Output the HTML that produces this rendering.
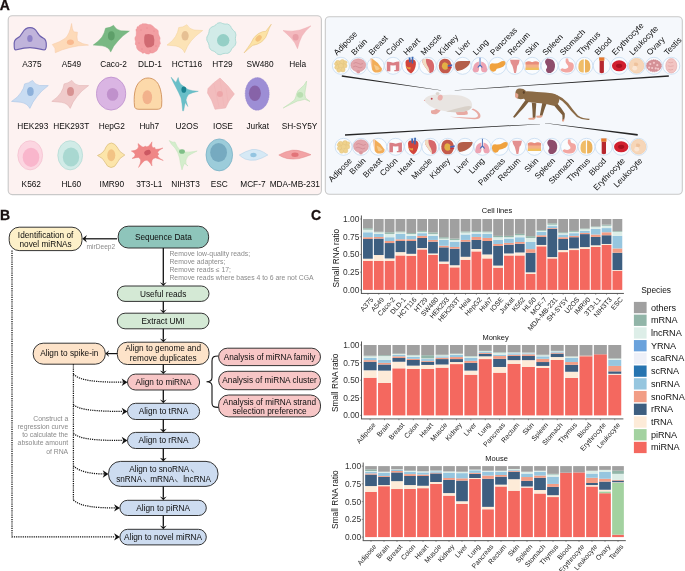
<!DOCTYPE html>
<html><head><meta charset="utf-8"><style>
html,body{margin:0;padding:0;background:#fff;overflow:hidden;width:685px;height:571px;}
svg{display:block;font-family:"Liberation Sans", sans-serif;will-change:transform;}
</style></head><body>
<svg width="685" height="571" viewBox="0 0 685 571">
<text x="-0.3" y="9.8" font-size="14" font-weight="bold" fill="#1a1010" stroke="#1a1010" stroke-width="0.3">A</text>
<text x="0" y="219.9" font-size="14" font-weight="bold" fill="#1a1010" stroke="#1a1010" stroke-width="0.3">B</text>
<text x="310.9" y="219.6" font-size="14" font-weight="bold" fill="#1a1010" stroke="#1a1010" stroke-width="0.3">C</text>
<rect x="8.2" y="15.7" width="313.2" height="178.9" rx="4" fill="#FDF2F1" stroke="#C9C9C9" stroke-width="1.1"/>
<rect x="325.3" y="16.7" width="357" height="177.5" rx="4" fill="#F5F8FC" stroke="#C9C9C9" stroke-width="1.1"/>
<path d="M14.2,46 C13.8,42 14.3,39.6 17,38.4 C19.5,37.3 21,35.5 22.6,32.5 C24.5,29 27,27.6 30,27.6 C33,27.6 35.5,29 37,32 C38.5,35 40.5,37 43.5,38.3 C46.3,39.5 46.5,42 46.3,46 C46.1,49.3 45.3,50.2 43,49.7 C38,48.6 34,47.6 30,47.6 C26,47.6 21,48.6 16.6,49.8 C14.6,50.3 14.2,49 14.2,46 Z" fill="#C0B4DB" stroke="#6E61AE" stroke-width="1.15"/>
<ellipse cx="29.9" cy="38.6" rx="2.7" ry="3.5" fill="#8E82C6"/>
<path d="M71.6,23.5 Q72,29 73.6,31.8 L77.4,32.2 Q76.5,37 77.5,41 Q82,44 88.5,45.1 Q78,45.3 70,47.5 Q62,49.5 55.3,52.7 Q56,48 52.3,44.5 Q60,42 65,38.5 Q69.5,35 71.6,23.5 Z" fill="#FDDAB9" stroke="#F7C8A2" stroke-width="0.5"/>
<ellipse cx="70.4" cy="42.2" rx="3.5" ry="2.7" fill="#F9B98F"/>
<path d="M105.5,28.2 Q110,28 113.6,25.3 Q116,30 121,30.8 L129.4,31.1 Q122,36 118,41 Q113,46 110.7,52.1 Q109,47 102,45.8 L93.2,45.1 Q99,41 102,37 Q104.5,33 105.5,28.2 Z" fill="#79B883" stroke="#6AAE75" stroke-width="0.4"/>
<ellipse cx="111.3" cy="35.8" rx="3.4" ry="4.6" fill="#5E9F69"/>
<path d="M143.80,23.86 C144.49,23.88 145.06,23.74 145.94,23.87 C146.81,24.00 147.27,24.37 148.19,24.53 C149.10,24.69 149.61,24.38 150.52,24.67 C151.43,24.96 151.92,25.34 152.73,25.98 C153.54,26.62 153.79,27.23 154.59,27.88 C155.38,28.53 155.99,28.65 156.70,29.23 C157.41,29.81 157.80,29.96 158.12,30.78 C158.45,31.60 158.14,32.38 158.32,33.34 C158.50,34.30 158.69,34.63 159.03,35.58 C159.37,36.52 159.91,37.05 160.05,38.08 C160.19,39.11 159.67,39.62 159.73,40.71 C159.79,41.80 160.41,42.70 160.36,43.54 C160.31,44.38 159.72,44.31 159.48,44.90 C159.24,45.50 159.41,45.97 159.15,46.53 C158.89,47.09 158.48,47.16 158.17,47.71 C157.86,48.26 157.88,48.68 157.59,49.28 C157.30,49.88 157.17,50.25 156.73,50.69 C156.30,51.14 155.98,51.17 155.42,51.53 C154.85,51.88 154.55,52.17 153.91,52.49 C153.27,52.80 152.93,53.00 152.23,53.10 C151.53,53.21 151.04,52.83 150.40,53.02 C149.76,53.20 149.61,53.87 149.04,54.05 C148.46,54.23 148.13,54.01 147.53,53.92 C146.93,53.84 146.61,53.87 146.04,53.63 C145.46,53.39 145.30,52.80 144.66,52.72 C144.03,52.64 143.50,53.35 142.87,53.24 C142.24,53.13 142.06,52.52 141.52,52.17 C140.97,51.81 140.68,51.77 140.13,51.46 C139.57,51.15 139.26,51.02 138.75,50.61 C138.25,50.20 138.02,49.96 137.60,49.40 C137.18,48.84 136.89,48.56 136.66,47.82 C136.43,47.08 136.74,46.44 136.46,45.70 C136.18,44.97 135.43,44.92 135.26,44.14 C135.10,43.37 135.67,42.72 135.63,41.84 C135.59,40.96 135.16,40.63 135.05,39.75 C134.93,38.87 134.86,38.28 135.07,37.46 C135.29,36.64 135.88,36.39 136.11,35.64 C136.34,34.89 136.19,34.50 136.23,33.71 C136.27,32.92 136.36,32.49 136.31,31.68 C136.25,30.87 135.82,30.27 135.94,29.65 C136.07,29.03 136.68,29.15 136.92,28.59 C137.17,28.03 136.88,27.30 137.18,26.87 C137.48,26.44 138.03,26.72 138.43,26.43 C138.84,26.14 138.84,25.74 139.21,25.41 C139.58,25.07 139.83,24.94 140.28,24.74 C140.73,24.55 141.01,24.63 141.44,24.43 C141.88,24.23 142.00,23.88 142.47,23.76 C142.94,23.65 143.11,23.84 143.80,23.86 Z" fill="#F29EA2" stroke="#EC9096" stroke-width="0.5"/>
<path d="M145,34.5 Q150,33 153.5,35.5 Q155,40 154,45 Q151,48 147,47.4 Q143.8,45 144.2,40 Q144,36.5 145,34.5 Z" fill="#D06A72"/>
<circle cx="141" cy="30" r="0.55" fill="#E3828A"/>
<circle cx="154" cy="31" r="0.55" fill="#E3828A"/>
<circle cx="139" cy="43" r="0.55" fill="#E3828A"/>
<circle cx="156" cy="46" r="0.55" fill="#E3828A"/>
<circle cx="147" cy="28" r="0.55" fill="#E3828A"/>
<circle cx="150" cy="51" r="0.55" fill="#E3828A"/>
<circle cx="142" cy="49" r="0.55" fill="#E3828A"/>
<path d="M178.7,27.6 Q183,27.5 186.9,24.7 Q189,29 194,30 L202.7,30.5 Q195,36 191,41 Q187,46 184.6,52.7 Q182.5,47.5 176,46 L167,45.1 Q173,41 175.5,36.5 Q178,32.5 178.7,27.6 Z" fill="#FCE3B6" stroke="#F2D197" stroke-width="0.5"/>
<ellipse cx="185.1" cy="35.8" rx="3.6" ry="4.8" fill="#E6C093"/>
<path d="M235.40,38.70 C235.40,42.00 236.49,41.31 235.52,44.21 C234.55,47.10 234.13,45.81 232.17,48.34 C230.22,50.87 231.46,51.10 229.01,52.64 C226.55,54.18 226.99,52.90 224.00,53.47 C221.00,54.05 221.82,55.09 219.03,54.56 C216.24,54.02 217.33,53.34 214.70,51.69 C212.07,50.04 212.07,51.41 210.25,49.05 C208.43,46.69 209.67,46.93 208.63,43.83 C207.59,40.73 206.79,41.78 206.79,38.70 C206.79,35.62 207.59,36.67 208.63,33.57 C209.67,30.47 208.43,30.71 210.25,28.35 C212.07,25.99 212.07,27.36 214.70,25.71 C217.33,24.06 216.24,23.38 219.03,22.84 C221.82,22.31 221.00,23.35 224.00,23.93 C226.99,24.50 226.55,23.22 229.01,24.76 C231.46,26.30 230.22,26.53 232.17,29.06 C234.13,31.59 234.55,30.30 235.52,33.19 C236.49,36.09 235.40,35.40 235.40,38.70 Z" fill="#D2EBE8" stroke="#9ED3CC" stroke-width="0.75"/>
<circle cx="223.2" cy="40.3" r="6.2" fill="#95CFC6"/>
<path d="M244,52.9 Q248,47.5 251,43 Q253,37 258.5,33.5 Q263,31 265.8,31.3 Q268.3,27.8 271.3,24.2 Q268.8,28.8 267.8,32.3 Q266.5,38 261.5,42 Q257,45 252.8,45.3 Q248.3,49 244,52.9 Z" fill="#FCE3A6" stroke="#E8C37E" stroke-width="0.55"/>
<ellipse cx="258.6" cy="38.3" rx="3.7" ry="2.5" transform="rotate(-48 258.6 38.3)" fill="#F4C27E"/>
<path d="M283,30.5 Q293,32 300,30 Q306,28 311,25.8 Q305,31 302,36 Q299,42 297.5,48.7 Q295,42 291,38 Q287,34 283,30.5 Z" fill="#F3B9BE" stroke="#EDA9AF" stroke-width="0.4"/>
<ellipse cx="295.6" cy="37.2" rx="3" ry="3.3" fill="#E9A0A8"/>
<path d="M24.6,83.9 Q28.5,83.5 32.5,80.4 Q34.5,84.5 39.5,85.5 L48.3,85.6 Q41,91 37,96.5 Q32.5,102 29.9,108.4 Q27.5,103.5 21,102.3 L11.5,101.4 Q18,97.5 21,92.5 Q24,88.5 24.6,83.9 Z" fill="#C9DCF2" stroke="#A5C2E6" stroke-width="0.55"/>
<ellipse cx="30.4" cy="91.4" rx="3.3" ry="4.5" fill="#8DB0DA"/>
<path d="M64.1,83.9 Q68,83.5 71.9,80.4 Q74,84.5 79,85.5 L88.6,85.6 Q81,91 77,96.5 Q72.5,102 70.2,108.4 Q68,103.5 61.5,102.3 L51.8,101.4 Q58,97.5 61,92.5 Q63.5,88.5 64.1,83.9 Z" fill="#F0CBCB" stroke="#E2B2B2" stroke-width="0.55"/>
<ellipse cx="70.5" cy="91.4" rx="3.5" ry="4.5" fill="#D79292"/>
<ellipse cx="111.1" cy="93.6" rx="14.6" ry="16.5" fill="#DAB5E3" stroke="#BC8ECD" stroke-width="0.8"/>
<ellipse cx="112.6" cy="94.4" rx="5.7" ry="6.4" fill="#C091CC"/>
<path d="M134.5,106 C133.6,97 134.5,88 138.5,83 C141.5,79.5 144.5,78 148,78 C152,78 156,80 158.5,84.5 C161.5,90 162.3,99 161.6,106.3 C161.2,108.5 159.5,109.3 157,109.3 L139,109.3 C136,109.3 134.7,108.3 134.5,106 Z" fill="#FCD9AA" stroke="#D0925C" stroke-width="0.9"/>
<ellipse cx="147.3" cy="97.3" rx="4.8" ry="7" fill="#F2B28C"/>
<path d="M171,77.2 Q172.5,78.5 174,80.5 L176,82.5 Q177,80 178.2,77.5 Q178.5,81 180.5,84 Q184.5,87 188,89.5 Q192,91 198.3,91.3 Q192,92.5 188.5,94.5 Q186.5,97 186,100 L187.8,106.5 L185.3,102.5 Q184.5,106 183.6,110.8 L182.6,110.8 Q182.3,104 181,98 Q178.5,92 176,87.5 Q173,82 171,77.2 Z" fill="#69BFC8" stroke="#5AB3BD" stroke-width="0.4"/>
<ellipse cx="183.8" cy="89.7" rx="2.4" ry="3.1" fill="#1B8290"/>
<path d="M208,88.5 L213.5,83 L220,78 L228,86 L234.4,94 L229,101 L225.5,108 L215,109.3 L211.5,100 L207.5,93 Z" fill="#F2BCBD" stroke="#EAADAF" stroke-width="0.5" stroke-linejoin="round"/>
<path d="M214,84 L219,107 M220,80 L224,106 M226,88 L228,102" stroke="#EDB0B2" stroke-width="0.4" fill="none"/>
<circle cx="219.9" cy="94.1" r="3" fill="#EDA6A9"/>
<ellipse cx="257.2" cy="93.9" rx="12" ry="16.3" fill="#9D8ED5" stroke="#9282CB" stroke-width="0.6" stroke-dasharray="1,0.7"/>
<ellipse cx="254.9" cy="93.3" rx="6" ry="7.8" fill="#8763A8"/>
<path d="M283.2,108 Q290,103.5 294.5,100 Q296,97 296.5,94 Q297.5,90 301,88 Q304.5,85.5 306.6,81 Q306.3,86 305.3,90 Q304.3,94.5 305.5,98 L310,101.5 L304.8,99.3 Q301,100.5 297.5,101 Q291,104 283.2,108 Z" fill="#D5EDCE" stroke="#B6DDAD" stroke-width="0.5"/>
<ellipse cx="300.1" cy="94.8" rx="3.1" ry="2.9" fill="#B9DEB0"/>
<ellipse cx="30.2" cy="155.3" rx="12.4" ry="14.6" fill="#FCD6E1" stroke="#F1B9CA" stroke-width="0.6"/>
<ellipse cx="31" cy="157.3" rx="8.3" ry="9.6" fill="#F9B6CC"/>
<ellipse cx="70.2" cy="155.3" rx="12.4" ry="14.6" fill="#D1EBE7" stroke="#A6D5CE" stroke-width="0.6"/>
<ellipse cx="71" cy="157" rx="8.2" ry="9.6" fill="#A9D8D1"/>
<path d="M97.5,155.5 Q104,153 106,147 Q108,143 111.5,143 Q115,143.5 117,147 Q119,152 124.8,155 Q119,158 117,163 Q115,167.5 111,167.5 Q107,167 105.5,163 Q103.5,158 97.5,155.5 Z" fill="#FCE5AA" stroke="#D8BA76" stroke-width="0.7"/>
<ellipse cx="111.3" cy="155.3" rx="4" ry="6" fill="#F2C385"/>
<path d="M131.30,151.00 Q140.34,150.51 138.00,143.50 Q144.11,149.14 145.00,146.00 Q147.96,148.67 152.00,141.80 Q150.71,149.08 155.00,147.50 Q153.74,150.79 163.00,148.00 Q154.84,152.57 159.00,154.00 Q154.92,156.01 163.30,160.50 Q153.82,157.11 155.00,158.00 Q150.71,158.62 152.00,166.00 Q148.10,159.31 145.50,160.50 Q144.38,159.72 138.50,167.50 Q142.60,159.04 139.00,158.00 Q140.81,156.56 132.00,158.50 Q138.69,154.64 131.30,151.00 Z" fill="#EF8787" stroke="#E87878" stroke-width="0.4"/>
<ellipse cx="147.5" cy="152.6" rx="3.4" ry="2.5" transform="rotate(-25 147.5 152.6)" fill="#CC5862"/>
<path d="M169.2,140.5 Q173,143 175,142 Q177,147 180,150 Q184,153 190,152 Q194,151.5 197.2,151 Q191,154 188,156 Q185,160 186,164 L188,166 L184.5,163.5 Q183,166 182,169.9 Q180,163 179.5,158 Q178,152 175,148 Q171,144.5 169.2,140.5 Z" fill="#D4EDCC" stroke="#BBE0B2" stroke-width="0.4"/>
<ellipse cx="182" cy="151.5" rx="2.9" ry="2.3" fill="#7FBF87"/>
<ellipse cx="219.3" cy="154.9" rx="13.3" ry="16" fill="#9CCCDA" stroke="#74AEC3" stroke-width="0.7"/>
<ellipse cx="218.6" cy="152.5" rx="8.4" ry="9.6" fill="#76AAC0"/>
<path d="M239.3,155 Q246,151 252,149.5 Q256,149 260,150.5 Q264,152 267.8,155 Q262,158.5 256,160 Q250,161 245,159 Q242,157.5 239.3,155 Z" fill="#D6E9F5" stroke="#A8CDE6" stroke-width="0.5"/>
<ellipse cx="253.5" cy="155" rx="3.2" ry="2.2" fill="#94C5E1"/>
<path d="M278.8,155 Q285,151.5 292,150.2 Q297,149.8 302,151.5 Q307,153 311,154.7 Q305,157 299,158.6 Q293,159.6 287,158.5 Q282,157.3 278.8,155 Z" fill="#F2A3A5" stroke="#E28688" stroke-width="0.5"/>
<ellipse cx="295" cy="154.7" rx="3.6" ry="2.2" fill="#E27479"/>
<text x="31.9" y="66.5" font-size="8.3" fill="#0d0d0d" text-anchor="middle">A375</text>
<text x="71.5" y="66.5" font-size="8.3" fill="#0d0d0d" text-anchor="middle">A549</text>
<text x="113.6" y="66.5" font-size="8.3" fill="#0d0d0d" text-anchor="middle">Caco-2</text>
<text x="150.0" y="66.5" font-size="8.3" fill="#0d0d0d" text-anchor="middle">DLD-1</text>
<text x="186.9" y="66.5" font-size="8.3" fill="#0d0d0d" text-anchor="middle">HCT116</text>
<text x="222.5" y="66.5" font-size="8.3" fill="#0d0d0d" text-anchor="middle">HT29</text>
<text x="260.0" y="66.5" font-size="8.3" fill="#0d0d0d" text-anchor="middle">SW480</text>
<text x="297.7" y="66.5" font-size="8.3" fill="#0d0d0d" text-anchor="middle">Hela</text>
<text x="32.8" y="129.0" font-size="8.3" fill="#0d0d0d" text-anchor="middle">HEK293</text>
<text x="71.3" y="129.0" font-size="8.3" fill="#0d0d0d" text-anchor="middle">HEK293T</text>
<text x="111.8" y="129.0" font-size="8.3" fill="#0d0d0d" text-anchor="middle">HepG2</text>
<text x="149.3" y="129.0" font-size="8.3" fill="#0d0d0d" text-anchor="middle">Huh7</text>
<text x="186.9" y="129.0" font-size="8.3" fill="#0d0d0d" text-anchor="middle">U2OS</text>
<text x="223.0" y="129.0" font-size="8.3" fill="#0d0d0d" text-anchor="middle">IOSE</text>
<text x="257.7" y="129.0" font-size="8.3" fill="#0d0d0d" text-anchor="middle">Jurkat</text>
<text x="299.6" y="129.0" font-size="8.3" fill="#0d0d0d" text-anchor="middle">SH-SY5Y</text>
<text x="31.3" y="186.9" font-size="8.3" fill="#0d0d0d" text-anchor="middle">K562</text>
<text x="71.3" y="186.9" font-size="8.3" fill="#0d0d0d" text-anchor="middle">HL60</text>
<text x="111.8" y="186.9" font-size="8.3" fill="#0d0d0d" text-anchor="middle">IMR90</text>
<text x="149.3" y="186.9" font-size="8.3" fill="#0d0d0d" text-anchor="middle">3T3-L1</text>
<text x="185.5" y="186.9" font-size="8.3" fill="#0d0d0d" text-anchor="middle">NIH3T3</text>
<text x="219.2" y="186.9" font-size="8.3" fill="#0d0d0d" text-anchor="middle">ESC</text>
<text x="252.9" y="186.9" font-size="8.3" fill="#0d0d0d" text-anchor="middle">MCF-7</text>
<text x="294.8" y="186.9" font-size="8.3" fill="#0d0d0d" text-anchor="middle">MDA-MB-231</text>
<defs><linearGradient id="gl1" gradientUnits="userSpaceOnUse" x1="342" y1="0" x2="441" y2="0"><stop offset="0" stop-color="#1e1e1e"/><stop offset="0.7" stop-color="#444"/><stop offset="1" stop-color="#bbb"/></linearGradient><linearGradient id="gl2" gradientUnits="userSpaceOnUse" x1="455" y1="0" x2="669" y2="0"><stop offset="0" stop-color="#c8c8c8"/><stop offset="0.3" stop-color="#555"/><stop offset="1" stop-color="#1e1e1e"/></linearGradient><linearGradient id="gl3" gradientUnits="userSpaceOnUse" x1="345" y1="0" x2="540" y2="0"><stop offset="0" stop-color="#1e1e1e"/><stop offset="0.75" stop-color="#444"/><stop offset="1" stop-color="#c0c0c0"/></linearGradient><linearGradient id="gl4" gradientUnits="userSpaceOnUse" x1="545" y1="0" x2="638" y2="0"><stop offset="0" stop-color="#c8c8c8"/><stop offset="0.35" stop-color="#555"/><stop offset="1" stop-color="#1e1e1e"/></linearGradient></defs>
<path d="M341.68,76.84 L440.98,90.42 L441.02,90.18 L341.92,75.16 Z" fill="#262626"/>
<path d="M668.74,75.15 L454.69,90.28 L454.71,90.52 L668.86,76.85 Z" fill="#262626"/>
<path d="M345.05,135.85 L492.03,127.05 L491.97,126.15 L344.95,134.15 Z" fill="#262626"/>
<path d="M492.02,127.05 L540.01,124.32 L539.99,124.08 L491.98,126.15 Z" fill="#262626"/>
<path d="M637.81,133.96 L545.02,122.98 L544.98,123.22 L637.59,135.64 Z" fill="#262626"/>
<circle cx="340.90" cy="65.8" r="8.5" fill="#FAFCFE" stroke="#BFD7EF" stroke-width="0.7"/>
<g transform="translate(340.90,65.8) scale(1.2) translate(-340.90,-65.8)"><circle cx="338.44" cy="63.34" r="2.08" fill="#EFD28E" stroke="#DDBB6F" stroke-width="0.3"/>
<circle cx="342.13" cy="62.52" r="2.00" fill="#EFD28E" stroke="#DDBB6F" stroke-width="0.3"/>
<circle cx="344.18" cy="65.80" r="1.92" fill="#EFD28E" stroke="#DDBB6F" stroke-width="0.3"/>
<circle cx="337.62" cy="67.03" r="1.92" fill="#EFD28E" stroke="#DDBB6F" stroke-width="0.3"/>
<circle cx="340.90" cy="65.80" r="2.08" fill="#EFD28E" stroke="#DDBB6F" stroke-width="0.3"/>
<circle cx="342.54" cy="69.08" r="1.92" fill="#EFD28E" stroke="#DDBB6F" stroke-width="0.3"/>
<circle cx="339.26" cy="69.49" r="1.76" fill="#EFD28E" stroke="#DDBB6F" stroke-width="0.3"/>
<circle cx="344.59" cy="62.93" r="1.44" fill="#EFD28E" stroke="#DDBB6F" stroke-width="0.3"/>
<circle cx="336.80" cy="64.16" r="1.28" fill="#EFD28E" stroke="#DDBB6F" stroke-width="0.3"/></g>
<text transform="translate(337.10,55.70) rotate(-46)" font-size="8.2" fill="#0d0d0d">Adipose</text>
<circle cx="358.29" cy="65.8" r="8.5" fill="#FAFCFE" stroke="#BFD7EF" stroke-width="0.7"/>
<g transform="translate(358.29,65.8) scale(1.2) translate(-358.29,-65.8)"><ellipse cx="358.29" cy="65.30" rx="6.2" ry="5.4" fill="#E3A6AC" stroke="#CF8D95" stroke-width="0.4"/>
<path d="M354.29,63.80 q2,-1.5 4,0 q2,1.5 4,0 M353.79,66.80 q2,-1.5 4,0 q2,1.5 4,0" stroke="#C9818B" stroke-width="0.5" fill="none"/>
<ellipse cx="358.29" cy="70.80" rx="1.6" ry="1.4" fill="#D9969C"/></g>
<text transform="translate(354.49,55.70) rotate(-46)" font-size="8.2" fill="#0d0d0d">Brain</text>
<circle cx="375.68" cy="65.8" r="8.5" fill="#FAFCFE" stroke="#BFD7EF" stroke-width="0.7"/>
<g transform="translate(375.68,65.8) scale(1.2) translate(-375.68,-65.8)"><path transform="translate(375.68,65.80)" d="M-3,-6 Q2,-3 5,2 Q6,5 2,5.5 Q-2,6 -3,3 Z" fill="#F2AD58" />
<path transform="translate(375.68,65.80)" d="M-3,-6 L-4.5,-6 Q-4,0 -3,3 Z" fill="#F6C39B" />
<path transform="translate(375.68,65.80)" d="M-1.5,-1 Q2,0 3.5,2.5 Q2,4 0,3.5 Z" fill="#F6C98A" /></g>
<text transform="translate(371.88,55.70) rotate(-46)" font-size="8.2" fill="#0d0d0d">Breast</text>
<circle cx="393.07" cy="65.8" r="8.5" fill="#FAFCFE" stroke="#BFD7EF" stroke-width="0.7"/>
<g transform="translate(393.07,65.8) scale(1.2) translate(-393.07,-65.8)"><path transform="translate(393.07,65.80)" d="M-5.2,4.5 L-5.2,-3.3 Q-3,-3.6 0,-2.6 Q3,-3.6 5.25,-3.6 L5.25,3 Q5.5,4.5 4,4.5 L1,4.5 L1,3.6 L2.3,3.6 L2.3,-0.4 Q0,-0.2 -2.25,-0.4 L-2.25,4.5 Z" fill="#DA7E85" /></g>
<text transform="translate(389.27,55.70) rotate(-46)" font-size="8.2" fill="#0d0d0d">Colon</text>
<circle cx="410.46" cy="65.8" r="8.5" fill="#FAFCFE" stroke="#BFD7EF" stroke-width="0.7"/>
<g transform="translate(410.46,65.8) scale(1.2) translate(-410.46,-65.8)"><path transform="translate(410.46,65.80)" d="M-4,-1 Q-5,-6 0,-5 Q5,-6 4.5,-1 Q4,4 0.5,6.5 Q-4,4 -4,-1 Z" fill="#D2453B" />
<path transform="translate(410.46,65.80)" d="M-1.5,-7 L0,-7 L0.3,-3 L-1.2,-3 Z" fill="#3B68B4" />
<path transform="translate(410.46,65.80)" d="M1,-7.5 L2.5,-7.5 L2.2,-2 L1,-2 Z" fill="#3B68B4" />
<path transform="translate(410.46,65.80)" d="M-4,0 Q-2,2 0,1 L0,3 Q-3,3 -4,0 Z" fill="#E8A040" /></g>
<text transform="translate(406.66,55.70) rotate(-46)" font-size="8.2" fill="#0d0d0d">Heart</text>
<circle cx="427.85" cy="65.8" r="8.5" fill="#FAFCFE" stroke="#BFD7EF" stroke-width="0.7"/>
<g transform="translate(427.85,65.8) scale(1.2) translate(-427.85,-65.8)"><path transform="translate(427.85,65.80)" d="M-4.5,-5 Q0,-7 3.5,-4.5 Q6,-1 5,3.5 Q4,6.5 1.5,6 Q-1,3 -3,0 Q-5,-2.5 -4.5,-5 Z" fill="#D7686B" />
<path transform="translate(427.85,65.80)" d="M-4.5,-5 Q-3,-6 -1.5,-5.8 Q-2,-2 0.5,1.5 Q1.5,4 1.5,6 Q-1,3 -3,0 Q-5,-2.5 -4.5,-5 Z" fill="#F1DDC2" /></g>
<text transform="translate(424.05,55.70) rotate(-46)" font-size="8.2" fill="#0d0d0d">Muscle</text>
<circle cx="445.24" cy="65.8" r="8.5" fill="#FAFCFE" stroke="#BFD7EF" stroke-width="0.7"/>
<g transform="translate(445.24,65.8) scale(1.2) translate(-445.24,-65.8)"><path transform="translate(445.24,65.80)" d="M-1,-5.8 Q4,-6 5,-1.5 Q5.5,3 3,5.5 Q0,7 -3,5.5 Q-5.5,3.5 -5.3,-0.5 Q-5,-5 -1,-5.8 Z" fill="#C45A4B" />
<path transform="translate(445.24,65.80)" d="M-0.5,-3 Q2.5,-2.5 2.5,0.5 Q2.5,3 0,3.3 Q-2.5,3 -2.8,0.3 Q-2.8,-2.5 -0.5,-3 Z" fill="#E2B045" />
<path transform="translate(445.24,65.80)" d="M2,-0.5 L5.8,-1.2 L5.8,0.3 L2,0.8 Z" fill="#4A62B8" />
<path transform="translate(445.24,65.80)" d="M2.2,0.8 L5.5,1.2 L5.3,2 L2,1.8 Z" fill="#C83040" /></g>
<text transform="translate(441.44,55.70) rotate(-46)" font-size="8.2" fill="#0d0d0d">Kidney</text>
<circle cx="462.63" cy="65.8" r="8.5" fill="#FAFCFE" stroke="#BFD7EF" stroke-width="0.7"/>
<g transform="translate(462.63,65.8) scale(1.2) translate(-462.63,-65.8)"><path transform="translate(462.63,65.80)" d="M-6.2,-1.5 Q-5.5,-4 -1.5,-4 L6.2,-4 Q6.5,-1.5 3.5,1 Q0,4 -4.5,4.3 Q-6.8,2.5 -6.2,-1.5 Z" fill="#B45F4A" /></g>
<text transform="translate(458.83,55.70) rotate(-46)" font-size="8.2" fill="#0d0d0d">Liver</text>
<circle cx="480.02" cy="65.8" r="8.5" fill="#FAFCFE" stroke="#BFD7EF" stroke-width="0.7"/>
<g transform="translate(480.02,65.8) scale(1.2) translate(-480.02,-65.8)"><path transform="translate(480.02,65.80)" d="M-1,-3.5 Q-5.5,-2.5 -6,3 Q-6,5.8 -2.5,5.3 Q-0.8,4.8 -0.8,2 Z" fill="#EDA3B2" />
<path transform="translate(480.02,65.80)" d="M1,-3.5 Q5.5,-2.5 6,3 Q6,5.8 2.5,5.3 Q0.8,4.8 0.8,2 Z" fill="#EDA3B2" />
<path transform="translate(480.02,65.80)" d="M-0.4,-6.8 L0.4,-6.8 L0.4,-1 L2.2,1.2 L1.6,1.7 L0,0.2 L-1.6,1.7 L-2.2,1.2 L-0.4,-1 Z" fill="#4A6DB8" /></g>
<text transform="translate(476.22,55.70) rotate(-46)" font-size="8.2" fill="#0d0d0d">Lung</text>
<circle cx="497.41" cy="65.8" r="8.5" fill="#FAFCFE" stroke="#BFD7EF" stroke-width="0.7"/>
<g transform="translate(497.41,65.8) scale(1.2) translate(-497.41,-65.8)"><path transform="translate(497.41,65.80)" d="M-6.5,1.5 Q-6.8,-2.5 -3,-2 Q0,-1.6 2,-3 Q4.5,-4.5 6.5,-3.5 Q7.2,-1 5,0.5 Q2,1.8 -0.5,2.5 Q-1.5,5.5 -4.5,4.8 Q-6.3,4 -6.5,1.5 Z" fill="#F0A23E" /></g>
<text transform="translate(493.61,55.70) rotate(-46)" font-size="8.2" fill="#0d0d0d">Pancreas</text>
<circle cx="514.80" cy="65.8" r="8.5" fill="#FAFCFE" stroke="#BFD7EF" stroke-width="0.7"/>
<g transform="translate(514.80,65.8) scale(1.2) translate(-514.80,-65.8)"><path transform="translate(514.80,65.80)" d="M-4,-5 L4,-5 Q3.5,-1 2,0 Q1.5,4 1,6 L-0.5,6 Q-1,3 -2,0 Q-3.5,-1.5 -4,-5 Z" fill="#E39090" /></g>
<text transform="translate(511.00,55.70) rotate(-46)" font-size="8.2" fill="#0d0d0d">Rectum</text>
<circle cx="532.19" cy="65.8" r="8.5" fill="#FAFCFE" stroke="#BFD7EF" stroke-width="0.7"/>
<g transform="translate(532.19,65.8) scale(1.2) translate(-532.19,-65.8)"><path transform="translate(532.19,65.80)" d="M-5.5,-3 L5.5,-3 L5.5,3.5 L-5.5,3.5 Z" fill="#F4B189" />
<path transform="translate(532.19,65.80)" d="M-5.5,-3 Q-3,-4.5 0,-3 Q3,-4.5 5.5,-3 L5.5,-1 L-5.5,-1 Z" fill="#E88D7C" />
<path transform="translate(532.19,65.80)" d="M-5.5,1.5 L5.5,1.5 L5.5,3.5 L-5.5,3.5 Z" fill="#F0C060" /></g>
<text transform="translate(528.39,55.70) rotate(-46)" font-size="8.2" fill="#0d0d0d">Skin</text>
<circle cx="549.58" cy="65.8" r="8.5" fill="#FAFCFE" stroke="#BFD7EF" stroke-width="0.7"/>
<g transform="translate(549.58,65.8) scale(1.2) translate(-549.58,-65.8)"><path transform="translate(549.58,65.80)" d="M-2,-6 Q4,-6 4.5,-1 Q5,4 1,6 Q-3,6.5 -3,3 Q-1,1 -3,-1 Q-5,-4 -2,-6 Z" fill="#8E4D6B" /></g>
<text transform="translate(545.78,55.70) rotate(-46)" font-size="8.2" fill="#0d0d0d">Spleen</text>
<circle cx="566.97" cy="65.8" r="8.5" fill="#FAFCFE" stroke="#BFD7EF" stroke-width="0.7"/>
<g transform="translate(566.97,65.8) scale(1.2) translate(-566.97,-65.8)"><path transform="translate(566.97,65.80)" d="M-1,-6 L1,-6 Q1,-3 3,-3 Q6.5,-2.5 5.5,2 Q4.5,6 -1,5.5 Q-5,5 -5.5,3 L-4,2 Q-1,3.5 1,1.5 Q1.5,0 -0.5,-2 Q-1.5,-3 -1,-6 Z" fill="#F2A6A1" /></g>
<text transform="translate(563.17,55.70) rotate(-46)" font-size="8.2" fill="#0d0d0d">Stomach</text>
<circle cx="584.36" cy="65.8" r="8.5" fill="#FAFCFE" stroke="#BFD7EF" stroke-width="0.7"/>
<g transform="translate(584.36,65.8) scale(1.2) translate(-584.36,-65.8)"><path transform="translate(584.36,65.80)" d="M-0.5,-5.5 Q-5,-5 -5,1 Q-5,6 -1,5.5 L-0.5,5.5 Z" fill="#F0BD68" />
<path transform="translate(584.36,65.80)" d="M0.5,-5.5 Q5,-5 5,1 Q5,6 1,5.5 L0.5,5.5 Z" fill="#ECB25A" /></g>
<text transform="translate(580.56,55.70) rotate(-46)" font-size="8.2" fill="#0d0d0d">Thymus</text>
<circle cx="601.75" cy="65.8" r="8.5" fill="#FAFCFE" stroke="#BFD7EF" stroke-width="0.7"/>
<g transform="translate(601.75,65.8) scale(1.2) translate(-601.75,-65.8)"><path transform="translate(601.75,65.80)" d="M-1.8,-4.5 L1.8,-4.5 L1.8,5.5 Q0,6.8 -1.8,5.5 Z" fill="#B7282F" />
<path transform="translate(601.75,65.80)" d="M-2.2,-7 L2.2,-7 L2.2,-4.3 L-2.2,-4.3 Z" fill="#E87A2D" /></g>
<text transform="translate(597.95,55.70) rotate(-46)" font-size="8.2" fill="#0d0d0d">Blood</text>
<circle cx="619.14" cy="65.8" r="8.5" fill="#FAFCFE" stroke="#BFD7EF" stroke-width="0.7"/>
<g transform="translate(619.14,65.8) scale(1.2) translate(-619.14,-65.8)"><ellipse cx="619.14" cy="65.80" rx="6" ry="4.6" fill="#D1202F"/>
<ellipse cx="619.14" cy="65.80" rx="2.6" ry="1.8" fill="#A8101E"/></g>
<text transform="translate(615.34,55.70) rotate(-46)" font-size="8.2" fill="#0d0d0d">Erythrocyte</text>
<circle cx="636.53" cy="65.8" r="8.5" fill="#FAFCFE" stroke="#BFD7EF" stroke-width="0.7"/>
<g transform="translate(636.53,65.8) scale(1.2) translate(-636.53,-65.8)"><circle cx="636.53" cy="65.80" r="6.2" fill="#F6D6B8" stroke="#EBC39B" stroke-width="0.4"/>
<path d="M634.53,63.30 q3,-1 3.5,1.5 q-1,2.5 -3.5,1.5" fill="#EEC29C"/>
<circle cx="635.03" cy="67.80" r="2" fill="#FAE6D4"/></g>
<text transform="translate(632.73,55.70) rotate(-46)" font-size="8.2" fill="#0d0d0d">Leukocyte</text>
<circle cx="653.92" cy="65.8" r="8.5" fill="#FAFCFE" stroke="#BFD7EF" stroke-width="0.7"/>
<g transform="translate(653.92,65.8) scale(1.2) translate(-653.92,-65.8)"><ellipse cx="653.92" cy="65.80" rx="6.3" ry="5" fill="#D59197" stroke="#BF6F7A" stroke-width="0.5" stroke-dasharray="1,0.6"/>
<circle cx="650.92" cy="64.30" r="0.9" fill="#F4C8CB"/>
<circle cx="653.92" cy="63.30" r="0.9" fill="#F4C8CB"/>
<circle cx="656.72" cy="65.30" r="0.9" fill="#F4C8CB"/>
<circle cx="652.42" cy="67.60" r="0.9" fill="#F4C8CB"/>
<circle cx="655.42" cy="68.00" r="0.9" fill="#F4C8CB"/>
<circle cx="657.42" cy="68.30" r="0.9" fill="#F4C8CB"/>
<circle cx="649.92" cy="67.30" r="0.9" fill="#F4C8CB"/></g>
<text transform="translate(650.12,55.70) rotate(-46)" font-size="8.2" fill="#0d0d0d">Ovary</text>
<circle cx="671.31" cy="65.8" r="8.5" fill="#FAFCFE" stroke="#BFD7EF" stroke-width="0.7"/>
<g transform="translate(671.31,65.8) scale(1.2) translate(-671.31,-65.8)"><ellipse cx="671.31" cy="65.80" rx="4.6" ry="6" fill="#F2C5C3" stroke="#E3A4A4" stroke-width="0.5"/>
<path d="M668.81,62.80 q2,1 4,0 M668.31,65.80 q2,1 5,0 M668.81,68.80 q2,1 4,0" stroke="#DE9C9C" stroke-width="0.5" fill="none"/></g>
<text transform="translate(667.51,55.70) rotate(-46)" font-size="8.2" fill="#0d0d0d">Testis</text>
<circle cx="343.60" cy="146.8" r="8.5" fill="#FAFCFE" stroke="#BFD7EF" stroke-width="0.7"/>
<g transform="translate(343.60,146.8) scale(1.2) translate(-343.60,-146.8)"><circle cx="341.14" cy="144.34" r="2.08" fill="#EFD28E" stroke="#DDBB6F" stroke-width="0.3"/>
<circle cx="344.83" cy="143.52" r="2.00" fill="#EFD28E" stroke="#DDBB6F" stroke-width="0.3"/>
<circle cx="346.88" cy="146.80" r="1.92" fill="#EFD28E" stroke="#DDBB6F" stroke-width="0.3"/>
<circle cx="340.32" cy="148.03" r="1.92" fill="#EFD28E" stroke="#DDBB6F" stroke-width="0.3"/>
<circle cx="343.60" cy="146.80" r="2.08" fill="#EFD28E" stroke="#DDBB6F" stroke-width="0.3"/>
<circle cx="345.24" cy="150.08" r="1.92" fill="#EFD28E" stroke="#DDBB6F" stroke-width="0.3"/>
<circle cx="341.96" cy="150.49" r="1.76" fill="#EFD28E" stroke="#DDBB6F" stroke-width="0.3"/>
<circle cx="347.29" cy="143.93" r="1.44" fill="#EFD28E" stroke="#DDBB6F" stroke-width="0.3"/>
<circle cx="339.50" cy="145.16" r="1.28" fill="#EFD28E" stroke="#DDBB6F" stroke-width="0.3"/></g>
<text transform="translate(352.40,161.20) rotate(-46)" text-anchor="end" font-size="8.2" fill="#0d0d0d">Adipose</text>
<circle cx="360.95" cy="146.8" r="8.5" fill="#FAFCFE" stroke="#BFD7EF" stroke-width="0.7"/>
<g transform="translate(360.95,146.8) scale(1.2) translate(-360.95,-146.8)"><ellipse cx="360.95" cy="146.30" rx="6.2" ry="5.4" fill="#E3A6AC" stroke="#CF8D95" stroke-width="0.4"/>
<path d="M356.95,144.80 q2,-1.5 4,0 q2,1.5 4,0 M356.45,147.80 q2,-1.5 4,0 q2,1.5 4,0" stroke="#C9818B" stroke-width="0.5" fill="none"/>
<ellipse cx="360.95" cy="151.80" rx="1.6" ry="1.4" fill="#D9969C"/></g>
<text transform="translate(366.15,161.20) rotate(-46)" text-anchor="end" font-size="8.2" fill="#0d0d0d">Brain</text>
<circle cx="378.30" cy="146.8" r="8.5" fill="#FAFCFE" stroke="#BFD7EF" stroke-width="0.7"/>
<g transform="translate(378.30,146.8) scale(1.2) translate(-378.30,-146.8)"><path transform="translate(378.30,146.80)" d="M-3,-6 Q2,-3 5,2 Q6,5 2,5.5 Q-2,6 -3,3 Z" fill="#F2AD58" />
<path transform="translate(378.30,146.80)" d="M-3,-6 L-4.5,-6 Q-4,0 -3,3 Z" fill="#F6C39B" />
<path transform="translate(378.30,146.80)" d="M-1.5,-1 Q2,0 3.5,2.5 Q2,4 0,3.5 Z" fill="#F6C98A" /></g>
<text transform="translate(382.60,161.20) rotate(-46)" text-anchor="end" font-size="8.2" fill="#0d0d0d">Breast</text>
<circle cx="395.65" cy="146.8" r="8.5" fill="#FAFCFE" stroke="#BFD7EF" stroke-width="0.7"/>
<g transform="translate(395.65,146.8) scale(1.2) translate(-395.65,-146.8)"><path transform="translate(395.65,146.80)" d="M-5.2,4.5 L-5.2,-3.3 Q-3,-3.6 0,-2.6 Q3,-3.6 5.25,-3.6 L5.25,3 Q5.5,4.5 4,4.5 L1,4.5 L1,3.6 L2.3,3.6 L2.3,-0.4 Q0,-0.2 -2.25,-0.4 L-2.25,4.5 Z" fill="#DA7E85" /></g>
<text transform="translate(398.05,161.20) rotate(-46)" text-anchor="end" font-size="8.2" fill="#0d0d0d">Colon</text>
<circle cx="413.00" cy="146.8" r="8.5" fill="#FAFCFE" stroke="#BFD7EF" stroke-width="0.7"/>
<g transform="translate(413.00,146.8) scale(1.2) translate(-413.00,-146.8)"><path transform="translate(413.00,146.80)" d="M-4,-1 Q-5,-6 0,-5 Q5,-6 4.5,-1 Q4,4 0.5,6.5 Q-4,4 -4,-1 Z" fill="#D2453B" />
<path transform="translate(413.00,146.80)" d="M-1.5,-7 L0,-7 L0.3,-3 L-1.2,-3 Z" fill="#3B68B4" />
<path transform="translate(413.00,146.80)" d="M1,-7.5 L2.5,-7.5 L2.2,-2 L1,-2 Z" fill="#3B68B4" />
<path transform="translate(413.00,146.80)" d="M-4,0 Q-2,2 0,1 L0,3 Q-3,3 -4,0 Z" fill="#E8A040" /></g>
<text transform="translate(415.00,161.20) rotate(-46)" text-anchor="end" font-size="8.2" fill="#0d0d0d">Heart</text>
<circle cx="430.35" cy="146.8" r="8.5" fill="#FAFCFE" stroke="#BFD7EF" stroke-width="0.7"/>
<g transform="translate(430.35,146.8) scale(1.2) translate(-430.35,-146.8)"><path transform="translate(430.35,146.80)" d="M-4.5,-5 Q0,-7 3.5,-4.5 Q6,-1 5,3.5 Q4,6.5 1.5,6 Q-1,3 -3,0 Q-5,-2.5 -4.5,-5 Z" fill="#D7686B" />
<path transform="translate(430.35,146.80)" d="M-4.5,-5 Q-3,-6 -1.5,-5.8 Q-2,-2 0.5,1.5 Q1.5,4 1.5,6 Q-1,3 -3,0 Q-5,-2.5 -4.5,-5 Z" fill="#F1DDC2" /></g>
<text transform="translate(432.75,161.20) rotate(-46)" text-anchor="end" font-size="8.2" fill="#0d0d0d">Muscle</text>
<circle cx="447.70" cy="146.8" r="8.5" fill="#FAFCFE" stroke="#BFD7EF" stroke-width="0.7"/>
<g transform="translate(447.70,146.8) scale(1.2) translate(-447.70,-146.8)"><path transform="translate(447.70,146.80)" d="M-1,-5.8 Q4,-6 5,-1.5 Q5.5,3 3,5.5 Q0,7 -3,5.5 Q-5.5,3.5 -5.3,-0.5 Q-5,-5 -1,-5.8 Z" fill="#C45A4B" />
<path transform="translate(447.70,146.80)" d="M-0.5,-3 Q2.5,-2.5 2.5,0.5 Q2.5,3 0,3.3 Q-2.5,3 -2.8,0.3 Q-2.8,-2.5 -0.5,-3 Z" fill="#E2B045" />
<path transform="translate(447.70,146.80)" d="M2,-0.5 L5.8,-1.2 L5.8,0.3 L2,0.8 Z" fill="#4A62B8" />
<path transform="translate(447.70,146.80)" d="M2.2,0.8 L5.5,1.2 L5.3,2 L2,1.8 Z" fill="#C83040" /></g>
<text transform="translate(450.50,161.20) rotate(-46)" text-anchor="end" font-size="8.2" fill="#0d0d0d">Kidney</text>
<circle cx="465.05" cy="146.8" r="8.5" fill="#FAFCFE" stroke="#BFD7EF" stroke-width="0.7"/>
<g transform="translate(465.05,146.8) scale(1.2) translate(-465.05,-146.8)"><path transform="translate(465.05,146.80)" d="M-6.2,-1.5 Q-5.5,-4 -1.5,-4 L6.2,-4 Q6.5,-1.5 3.5,1 Q0,4 -4.5,4.3 Q-6.8,2.5 -6.2,-1.5 Z" fill="#B45F4A" /></g>
<text transform="translate(469.65,161.20) rotate(-46)" text-anchor="end" font-size="8.2" fill="#0d0d0d">Liver</text>
<circle cx="482.40" cy="146.8" r="8.5" fill="#FAFCFE" stroke="#BFD7EF" stroke-width="0.7"/>
<g transform="translate(482.40,146.8) scale(1.2) translate(-482.40,-146.8)"><path transform="translate(482.40,146.80)" d="M-1,-3.5 Q-5.5,-2.5 -6,3 Q-6,5.8 -2.5,5.3 Q-0.8,4.8 -0.8,2 Z" fill="#EDA3B2" />
<path transform="translate(482.40,146.80)" d="M1,-3.5 Q5.5,-2.5 6,3 Q6,5.8 2.5,5.3 Q0.8,4.8 0.8,2 Z" fill="#EDA3B2" />
<path transform="translate(482.40,146.80)" d="M-0.4,-6.8 L0.4,-6.8 L0.4,-1 L2.2,1.2 L1.6,1.7 L0,0.2 L-1.6,1.7 L-2.2,1.2 L-0.4,-1 Z" fill="#4A6DB8" /></g>
<text transform="translate(485.00,161.20) rotate(-46)" text-anchor="end" font-size="8.2" fill="#0d0d0d">Lung</text>
<circle cx="499.75" cy="146.8" r="8.5" fill="#FAFCFE" stroke="#BFD7EF" stroke-width="0.7"/>
<g transform="translate(499.75,146.8) scale(1.2) translate(-499.75,-146.8)"><path transform="translate(499.75,146.80)" d="M-6.5,1.5 Q-6.8,-2.5 -3,-2 Q0,-1.6 2,-3 Q4.5,-4.5 6.5,-3.5 Q7.2,-1 5,0.5 Q2,1.8 -0.5,2.5 Q-1.5,5.5 -4.5,4.8 Q-6.3,4 -6.5,1.5 Z" fill="#F0A23E" /></g>
<text transform="translate(505.55,161.20) rotate(-46)" text-anchor="end" font-size="8.2" fill="#0d0d0d">Pancreas</text>
<circle cx="517.10" cy="146.8" r="8.5" fill="#FAFCFE" stroke="#BFD7EF" stroke-width="0.7"/>
<g transform="translate(517.10,146.8) scale(1.2) translate(-517.10,-146.8)"><path transform="translate(517.10,146.80)" d="M-4,-5 L4,-5 Q3.5,-1 2,0 Q1.5,4 1,6 L-0.5,6 Q-1,3 -2,0 Q-3.5,-1.5 -4,-5 Z" fill="#E39090" /></g>
<text transform="translate(520.90,161.20) rotate(-46)" text-anchor="end" font-size="8.2" fill="#0d0d0d">Rectum</text>
<circle cx="534.45" cy="146.8" r="8.5" fill="#FAFCFE" stroke="#BFD7EF" stroke-width="0.7"/>
<g transform="translate(534.45,146.8) scale(1.2) translate(-534.45,-146.8)"><path transform="translate(534.45,146.80)" d="M-5.5,-3 L5.5,-3 L5.5,3.5 L-5.5,3.5 Z" fill="#F4B189" />
<path transform="translate(534.45,146.80)" d="M-5.5,-3 Q-3,-4.5 0,-3 Q3,-4.5 5.5,-3 L5.5,-1 L-5.5,-1 Z" fill="#E88D7C" />
<path transform="translate(534.45,146.80)" d="M-5.5,1.5 L5.5,1.5 L5.5,3.5 L-5.5,3.5 Z" fill="#F0C060" /></g>
<text transform="translate(538.85,161.20) rotate(-46)" text-anchor="end" font-size="8.2" fill="#0d0d0d">Skin</text>
<circle cx="551.80" cy="146.8" r="8.5" fill="#FAFCFE" stroke="#BFD7EF" stroke-width="0.7"/>
<g transform="translate(551.80,146.8) scale(1.2) translate(-551.80,-146.8)"><path transform="translate(551.80,146.80)" d="M-2,-6 Q4,-6 4.5,-1 Q5,4 1,6 Q-3,6.5 -3,3 Q-1,1 -3,-1 Q-5,-4 -2,-6 Z" fill="#8E4D6B" /></g>
<text transform="translate(555.60,161.20) rotate(-46)" text-anchor="end" font-size="8.2" fill="#0d0d0d">Spleen</text>
<circle cx="569.15" cy="146.8" r="8.5" fill="#FAFCFE" stroke="#BFD7EF" stroke-width="0.7"/>
<g transform="translate(569.15,146.8) scale(1.2) translate(-569.15,-146.8)"><path transform="translate(569.15,146.80)" d="M-1,-6 L1,-6 Q1,-3 3,-3 Q6.5,-2.5 5.5,2 Q4.5,6 -1,5.5 Q-5,5 -5.5,3 L-4,2 Q-1,3.5 1,1.5 Q1.5,0 -0.5,-2 Q-1.5,-3 -1,-6 Z" fill="#F2A6A1" /></g>
<text transform="translate(574.35,161.20) rotate(-46)" text-anchor="end" font-size="8.2" fill="#0d0d0d">Stomach</text>
<circle cx="586.50" cy="146.8" r="8.5" fill="#FAFCFE" stroke="#BFD7EF" stroke-width="0.7"/>
<g transform="translate(586.50,146.8) scale(1.2) translate(-586.50,-146.8)"><path transform="translate(586.50,146.80)" d="M-0.5,-5.5 Q-5,-5 -5,1 Q-5,6 -1,5.5 L-0.5,5.5 Z" fill="#F0BD68" />
<path transform="translate(586.50,146.80)" d="M0.5,-5.5 Q5,-5 5,1 Q5,6 1,5.5 L0.5,5.5 Z" fill="#ECB25A" /></g>
<text transform="translate(590.60,161.20) rotate(-46)" text-anchor="end" font-size="8.2" fill="#0d0d0d">Thymus</text>
<circle cx="603.85" cy="146.8" r="8.5" fill="#FAFCFE" stroke="#BFD7EF" stroke-width="0.7"/>
<g transform="translate(603.85,146.8) scale(1.2) translate(-603.85,-146.8)"><path transform="translate(603.85,146.80)" d="M-1.8,-4.5 L1.8,-4.5 L1.8,5.5 Q0,6.8 -1.8,5.5 Z" fill="#B7282F" />
<path transform="translate(603.85,146.80)" d="M-2.2,-7 L2.2,-7 L2.2,-4.3 L-2.2,-4.3 Z" fill="#E87A2D" /></g>
<text transform="translate(606.75,161.20) rotate(-46)" text-anchor="end" font-size="8.2" fill="#0d0d0d">Blood</text>
<circle cx="621.20" cy="146.8" r="8.5" fill="#FAFCFE" stroke="#BFD7EF" stroke-width="0.7"/>
<g transform="translate(621.20,146.8) scale(1.2) translate(-621.20,-146.8)"><ellipse cx="621.20" cy="146.80" rx="6" ry="4.6" fill="#D1202F"/>
<ellipse cx="621.20" cy="146.80" rx="2.6" ry="1.8" fill="#A8101E"/></g>
<text transform="translate(625.50,161.20) rotate(-46)" text-anchor="end" font-size="8.2" fill="#0d0d0d">Erythrocyte</text>
<circle cx="638.55" cy="146.8" r="8.5" fill="#FAFCFE" stroke="#BFD7EF" stroke-width="0.7"/>
<g transform="translate(638.55,146.8) scale(1.2) translate(-638.55,-146.8)"><circle cx="638.55" cy="146.80" r="6.2" fill="#F6D6B8" stroke="#EBC39B" stroke-width="0.4"/>
<path d="M636.55,144.30 q3,-1 3.5,1.5 q-1,2.5 -3.5,1.5" fill="#EEC29C"/>
<circle cx="637.05" cy="148.80" r="2" fill="#FAE6D4"/></g>
<text transform="translate(642.85,161.20) rotate(-46)" text-anchor="end" font-size="8.2" fill="#0d0d0d">Leukocyte</text>
<path d="M473,108.5 Q480,111 480.5,116 Q480.5,119.5 474,119.3 Q462,118.5 449.7,116.8 Q461,117.2 472,117.8 Q478,118 478,115.5 Q477.5,112 471.5,109.5 Z" fill="#E8AAA3"/>
<path d="M431,110.5 Q434,110.5 437,108.5 L441,109 Q440,112.5 436,114.3 Q432,114.6 431,113 Z" fill="#E8A9A2"/>
<path d="M455,111 L466,110 Q468.5,112 467.5,114.5 Q462,115.5 457,114.8 Z" fill="#E8A9A2"/>
<path d="M424.2,100.3 Q425,97.5 428.5,96 Q432,94.8 436,94.6 Q440,94.3 444,95 Q452,94.6 458,95.2 Q465,96 469.5,99.5 Q473,103 471.8,107 Q470,110.5 464,111.5 Q457,112.5 450,112 Q444,111.2 439,110 Q434,108.5 430,106 Q426,103.5 424.2,100.3 Z" fill="#E9E5E2"/>
<path d="M446,111.6 Q456,108.5 465,106.5 Q470,105.3 471.8,107 Q470,110.5 464,111.5 Q457,112.5 450,112 Z" fill="#D8D0C8"/>
<ellipse cx="437.6" cy="93.6" rx="1.9" ry="1.7" fill="#DDD6D0"/>
<ellipse cx="440.2" cy="97.6" rx="2.5" ry="2.9" transform="rotate(15 440.2 97.6)" fill="#EBB0AC"/>
<circle cx="431.7" cy="98.8" r="0.95" fill="#C0404A"/>
<circle cx="424.5" cy="100.4" r="0.6" fill="#E9AFAA"/>
<path d="M556.5,94.8 Q563,97.5 568,103 Q573,110 578,115.5 Q583,118.8 589.5,118.7 L589.3,120 Q582.5,120.3 577,117 Q571,111.5 566.5,105.3 Q562,100 556,97.5 Z" fill="#8B6B46"/>
<path d="M552,103 L557.3,103.6 Q561,107.5 564.8,113.5 Q565.2,117.5 563.8,121 L562,121 Q562.8,117.5 562.3,115 Q557.5,110 552,103 Z" fill="#7C5E3D"/>
<path d="M542.4,102.5 L546.8,103 Q544.5,109 542.4,115.7 L539.8,115.7 Q541,109 542.4,102.5 Z" fill="#7C5E3D"/>
<path d="M523,91.5 Q530,91 537,92 Q546,92.6 552,93.3 Q556,94 558,96 Q560,99.5 558.5,103 Q556.5,106 553.5,105.8 Q547,104 541,103.3 Q534,102.8 528,102 Q524.5,100.5 523,97 Z" fill="#8B6B46"/>
<path d="M525.5,100 L529,101.5 Q524,108 519,113 Q516.5,116 514.5,117.8 L513,117 Q515.5,113.5 519,109 Q522.5,104 525.5,100 Z" fill="#7C5E3D"/>
<path d="M531.8,102.5 L536.3,103.3 Q535.8,110 535.4,117.8 L532.8,118.2 Q532.6,110 531.8,102.5 Z" fill="#7C5E3D"/>
<path d="M528.4,118 L535.4,117.6 Q535.8,119.5 533.5,119.7 Q530,119.9 528.4,119.2 Z" fill="#E6A58E"/>
<path d="M536.3,115.8 L542.4,115.6 Q542.8,117.5 540.5,117.8 Q538,118 536.3,117.3 Z" fill="#E6A58E"/>
<path d="M562,119.3 L564.3,119.5 L564,121.6 L562.2,121.4 Z" fill="#E6A58E"/>
<path d="M515.5,92 Q516,88.8 519.5,88.4 Q523.5,88.2 525.5,90.5 Q527,94 525.7,97.6 Q524,99.3 520.5,99.2 Q516.8,99 515.6,96.8 Z" fill="#8B6B46"/>
<path d="M515.3,93 Q517.5,92.8 518.4,94.8 Q518.6,97.2 517,98.6 Q515.2,98.2 515.2,96 Z" fill="#E6A58E"/>
<ellipse cx="523.8" cy="92.3" rx="1" ry="1.6" fill="#5E4329"/>
<rect x="118.20" y="226.20" width="90.40" height="21.80" rx="10.00" fill="#8EC5BB" stroke="#2a2a2a" stroke-width="0.95"/>
<text x="163.40" y="239.87" text-anchor="middle" font-size="8.25" fill="#0d0d0d">Sequence Data</text>
<rect x="9.20" y="227.20" width="72.80" height="23.40" rx="10.00" fill="#FDF0C9" stroke="#2a2a2a" stroke-width="0.95"/>
<text x="45.60" y="237.67" text-anchor="middle" font-size="8.25" fill="#0d0d0d">Identification of</text>
<text x="45.60" y="247.27" text-anchor="middle" font-size="8.25" fill="#0d0d0d">novel miRNAs</text>
<rect x="117.30" y="286.00" width="91.70" height="15.40" rx="7.70" fill="#D4E9D5" stroke="#2a2a2a" stroke-width="0.95"/>
<text x="163.15" y="297.17" text-anchor="middle" font-size="8.25" fill="#0d0d0d">Useful reads</text>
<rect x="117.30" y="313.20" width="91.70" height="15.60" rx="7.80" fill="#D4E9D5" stroke="#2a2a2a" stroke-width="0.95"/>
<text x="163.15" y="323.77" text-anchor="middle" font-size="8.25" fill="#0d0d0d">Extract UMI</text>
<rect x="117.30" y="342.20" width="91.70" height="22.30" rx="10.00" fill="#FDE3C9" stroke="#2a2a2a" stroke-width="0.95"/>
<text x="163.15" y="351.42" text-anchor="middle" font-size="8.25" fill="#0d0d0d">Align to genome and</text>
<text x="163.15" y="360.82" text-anchor="middle" font-size="8.25" fill="#0d0d0d">remove duplicates</text>
<rect x="33.20" y="343.20" width="72.10" height="21.00" rx="10.00" fill="#FDE3C9" stroke="#2a2a2a" stroke-width="0.95"/>
<text x="69.25" y="355.67" text-anchor="middle" font-size="8.25" fill="#0d0d0d">Align to spike-in</text>
<rect x="127.50" y="374.10" width="72.10" height="15.90" rx="7.95" fill="#F7C6C6" stroke="#2a2a2a" stroke-width="0.95"/>
<text x="163.55" y="384.82" text-anchor="middle" font-size="8.25" fill="#0d0d0d">Align to miRNA</text>
<rect x="127.50" y="403.30" width="72.10" height="16.20" rx="8.10" fill="#CDDCF0" stroke="#2a2a2a" stroke-width="0.95"/>
<text x="163.55" y="414.17" text-anchor="middle" font-size="8.25" fill="#0d0d0d">Align to tRNA</text>
<rect x="127.50" y="432.40" width="72.10" height="16.10" rx="8.05" fill="#CDDCF0" stroke="#2a2a2a" stroke-width="0.95"/>
<text x="163.55" y="443.22" text-anchor="middle" font-size="8.25" fill="#0d0d0d">Align to rRNA</text>
<rect x="108.50" y="461.40" width="109.50" height="25.00" rx="12.00" fill="#CDDCF0" stroke="#2a2a2a" stroke-width="0.95"/>
<text x="129.2" y="472.2" font-size="8.2" fill="#0d0d0d">Align to snoRNA</text>
<text x="116.2" y="482.0" font-size="8.2" fill="#0d0d0d">snRNA</text>
<text x="150.2" y="482.0" font-size="8.2" fill="#0d0d0d">mRNA</text>
<text x="183.2" y="482.0" font-size="8.2" fill="#0d0d0d">lncRNA</text>
<path d="M191.30,469.90 Q192.50,470.80 193.20,472.00" stroke="#333" stroke-width="0.85" fill="none" stroke-linecap="round"/>
<path d="M143.90,479.70 Q145.10,480.60 145.80,481.80" stroke="#333" stroke-width="0.85" fill="none" stroke-linecap="round"/>
<path d="M175.30,479.70 Q176.50,480.60 177.20,481.80" stroke="#333" stroke-width="0.85" fill="none" stroke-linecap="round"/>
<rect x="119.90" y="500.30" width="86.40" height="15.20" rx="7.60" fill="#CDDCF0" stroke="#2a2a2a" stroke-width="0.95"/>
<text x="163.10" y="510.67" text-anchor="middle" font-size="8.25" fill="#0d0d0d">Align to piRNA</text>
<rect x="119.90" y="529.30" width="86.40" height="15.60" rx="7.80" fill="#CDDCF0" stroke="#2a2a2a" stroke-width="0.95"/>
<text x="163.10" y="539.87" text-anchor="middle" font-size="8.25" fill="#0d0d0d">Align to novel miRNA</text>
<rect x="218.60" y="348.20" width="101.90" height="17.40" rx="8.70" fill="#F7C6C6" stroke="#2a2a2a" stroke-width="0.95"/>
<text x="269.55" y="359.67" text-anchor="middle" font-size="8.25" fill="#0d0d0d">Analysis of miRNA family</text>
<rect x="218.60" y="371.30" width="101.90" height="18.40" rx="9.20" fill="#F7C6C6" stroke="#2a2a2a" stroke-width="0.95"/>
<text x="269.55" y="383.27" text-anchor="middle" font-size="8.25" fill="#0d0d0d">Analysis of miRNA cluster</text>
<rect x="218.60" y="395.00" width="101.90" height="21.90" rx="10.00" fill="#F7C6C6" stroke="#2a2a2a" stroke-width="0.95"/>
<text x="269.55" y="404.77" text-anchor="middle" font-size="8.25" fill="#0d0d0d">Analysis of miRNA strand</text>
<text x="269.55" y="414.27" text-anchor="middle" font-size="8.25" fill="#0d0d0d">selection preference</text>
<line x1="163.3" y1="248.0" x2="163.3" y2="283.50" stroke="#111" stroke-width="1.3"/><path d="M163.30,286.00 L159.90,282.30 L163.30,283.70 L166.70,282.30 Z" fill="#111"/>
<line x1="163.3" y1="301.4" x2="163.3" y2="310.70" stroke="#111" stroke-width="1.3"/><path d="M163.30,313.20 L159.90,309.50 L163.30,310.90 L166.70,309.50 Z" fill="#111"/>
<line x1="163.3" y1="328.8" x2="163.3" y2="339.70" stroke="#111" stroke-width="1.3"/><path d="M163.30,342.20 L159.90,338.50 L163.30,339.90 L166.70,338.50 Z" fill="#111"/>
<line x1="163.3" y1="364.5" x2="163.3" y2="371.60" stroke="#111" stroke-width="1.3"/><path d="M163.30,374.10 L159.90,370.40 L163.30,371.80 L166.70,370.40 Z" fill="#111"/>
<line x1="163.3" y1="390.0" x2="163.3" y2="400.80" stroke="#111" stroke-width="1.3"/><path d="M163.30,403.30 L159.90,399.60 L163.30,401.00 L166.70,399.60 Z" fill="#111"/>
<line x1="163.3" y1="419.5" x2="163.3" y2="429.90" stroke="#111" stroke-width="1.3"/><path d="M163.30,432.40 L159.90,428.70 L163.30,430.10 L166.70,428.70 Z" fill="#111"/>
<line x1="163.3" y1="448.5" x2="163.3" y2="458.90" stroke="#111" stroke-width="1.3"/><path d="M163.30,461.40 L159.90,457.70 L163.30,459.10 L166.70,457.70 Z" fill="#111"/>
<line x1="163.3" y1="486.4" x2="163.3" y2="497.80" stroke="#111" stroke-width="1.3"/><path d="M163.30,500.30 L159.90,496.60 L163.30,498.00 L166.70,496.60 Z" fill="#111"/>
<line x1="163.3" y1="515.5" x2="163.3" y2="526.80" stroke="#111" stroke-width="1.3"/><path d="M163.30,529.30 L159.90,525.60 L163.30,527.00 L166.70,525.60 Z" fill="#111"/>
<line x1="117" y1="238.8" x2="85" y2="238.8" stroke="#111" stroke-width="1.25"/><path d="M82.30,238.80 L86.90,235.00 L85.30,238.80 L86.90,242.60 Z" fill="#111"/>
<line x1="117.3" y1="353.6" x2="108" y2="353.6" stroke="#111" stroke-width="1.2"/><path d="M105.40,353.60 L109.10,350.20 L107.70,353.60 L109.10,357.00 Z" fill="#111"/>
<text x="86.6" y="248.6" font-size="6.6" fill="#8a8a8a">mirDeep2</text>
<text x="169.4" y="255.90" font-size="6.85" fill="#8a8a8a">Remove low-quality reads;</text>
<text x="169.4" y="264.05" font-size="6.85" fill="#8a8a8a">Remove adapters;</text>
<text x="169.4" y="272.20" font-size="6.85" fill="#8a8a8a">Remove reads ≤ 17;</text>
<text x="169.4" y="280.35" font-size="6.85" fill="#8a8a8a">Remove reads where bases 4 to 6 are not CGA</text>
<text x="68.2" y="420.80" text-anchor="end" font-size="6.85" fill="#8a8a8a">Construct a</text>
<text x="68.2" y="429.00" text-anchor="end" font-size="6.85" fill="#8a8a8a">regression curve</text>
<text x="68.2" y="437.20" text-anchor="end" font-size="6.85" fill="#8a8a8a">to calculate the</text>
<text x="68.2" y="445.40" text-anchor="end" font-size="6.85" fill="#8a8a8a">absolute amount</text>
<text x="68.2" y="453.60" text-anchor="end" font-size="6.85" fill="#8a8a8a">of RNA</text>
<path d="M12,250.6 L12,536.9 L115,536.9" stroke="#111" stroke-width="1.25" stroke-dasharray="1.2,1.0" fill="none"/><path d="M119.90,536.90 L114.10,533.20 L115.80,536.90 L114.10,540.60 Z" fill="#111"/>
<path d="M73.4,364.2 L73.4,500" stroke="#111" stroke-width="1.25" stroke-dasharray="1.2,1.0" fill="none"/>
<path d="M73.4,374.2 C80,380.7 95,382.2 123.0,382.2" stroke="#111" stroke-width="1.25" stroke-dasharray="1.2,1.0" fill="none"/><path d="M127.50,382.20 L121.70,378.50 L123.40,382.20 L121.70,385.90 Z" fill="#111"/>
<path d="M73.4,404.9 C80,409.9 95,411.4 123.0,411.4" stroke="#111" stroke-width="1.25" stroke-dasharray="1.2,1.0" fill="none"/><path d="M127.50,411.40 L121.70,407.70 L123.40,411.40 L121.70,415.10 Z" fill="#111"/>
<path d="M73.4,433.5 C80,439.0 95,440.5 123.0,440.5" stroke="#111" stroke-width="1.25" stroke-dasharray="1.2,1.0" fill="none"/><path d="M127.50,440.50 L121.70,436.80 L123.40,440.50 L121.70,444.20 Z" fill="#111"/>
<path d="M73.4,466 C80,472.5 95,474.0 104.0,474.0" stroke="#111" stroke-width="1.25" stroke-dasharray="1.2,1.0" fill="none"/><path d="M108.50,474.00 L102.70,470.30 L104.40,474.00 L102.70,477.70 Z" fill="#111"/>
<path d="M73.4,500 C80,506.4 95,507.9 115.4,507.9" stroke="#111" stroke-width="1.25" stroke-dasharray="1.2,1.0" fill="none"/><path d="M119.90,507.90 L114.10,504.20 L115.80,507.90 L114.10,511.60 Z" fill="#111"/>
<path d="M218.3,356 C213.5,356 212,357 212,361 L212,377.5 C212,380.3 210.5,381.8 206.5,381.8 C210.5,381.8 212,383.3 212,386 L212,403 C212,406.5 213.5,407.4 218.3,407.4" stroke="#111" stroke-width="1.1" fill="none"/>
<rect x="363.03" y="260.83" width="9.76" height="29.07" fill="#F4685F"/>
<rect x="363.03" y="258.70" width="9.76" height="2.13" fill="#FDEBD8"/>
<rect x="363.03" y="238.99" width="9.76" height="19.71" fill="#3D5E80"/>
<rect x="363.03" y="237.22" width="9.76" height="1.77" fill="#F29D85"/>
<rect x="363.03" y="232.26" width="9.76" height="4.96" fill="#96C6DF"/>
<rect x="363.03" y="229.63" width="9.76" height="2.62" fill="#DDEEE8"/>
<rect x="363.03" y="228.22" width="9.76" height="1.42" fill="#91B5A8"/>
<rect x="363.03" y="219.00" width="9.76" height="9.22" fill="#A0A0A0"/>
<line x1="367.91" y1="293.44" x2="367.91" y2="294.75" stroke="#333" stroke-width="0.5"/>
<text transform="translate(373.71,299.75) rotate(-49)" text-anchor="end" font-size="6.9" fill="#222">A375</text>
<rect x="373.87" y="260.83" width="9.76" height="29.07" fill="#F4685F"/>
<rect x="373.87" y="255.02" width="9.76" height="5.81" fill="#FDEBD8"/>
<rect x="373.87" y="238.57" width="9.76" height="16.45" fill="#3D5E80"/>
<rect x="373.87" y="236.94" width="9.76" height="1.63" fill="#F29D85"/>
<rect x="373.87" y="233.89" width="9.76" height="3.05" fill="#96C6DF"/>
<rect x="373.87" y="232.26" width="9.76" height="1.63" fill="#DDEEE8"/>
<rect x="373.87" y="231.76" width="9.76" height="0.50" fill="#91B5A8"/>
<rect x="373.87" y="219.00" width="9.76" height="12.76" fill="#A0A0A0"/>
<line x1="378.76" y1="293.44" x2="378.76" y2="294.75" stroke="#333" stroke-width="0.5"/>
<text transform="translate(384.56,299.75) rotate(-49)" text-anchor="end" font-size="6.9" fill="#222">A549</text>
<rect x="384.72" y="260.83" width="9.76" height="29.07" fill="#F4685F"/>
<rect x="384.72" y="258.42" width="9.76" height="2.41" fill="#FDEBD8"/>
<rect x="384.72" y="243.04" width="9.76" height="15.39" fill="#3D5E80"/>
<rect x="384.72" y="240.98" width="9.76" height="2.06" fill="#F29D85"/>
<rect x="384.72" y="237.22" width="9.76" height="3.76" fill="#96C6DF"/>
<rect x="384.72" y="233.89" width="9.76" height="3.33" fill="#DDEEE8"/>
<rect x="384.72" y="232.26" width="9.76" height="1.63" fill="#91B5A8"/>
<rect x="384.72" y="219.00" width="9.76" height="13.26" fill="#A0A0A0"/>
<line x1="389.60" y1="293.44" x2="389.60" y2="294.75" stroke="#333" stroke-width="0.5"/>
<text transform="translate(395.40,299.75) rotate(-49)" text-anchor="end" font-size="6.9" fill="#222">Caco-2</text>
<rect x="395.57" y="255.44" width="9.76" height="34.46" fill="#F4685F"/>
<rect x="395.57" y="252.11" width="9.76" height="3.33" fill="#FDEBD8"/>
<rect x="395.57" y="240.98" width="9.76" height="11.13" fill="#3D5E80"/>
<rect x="395.57" y="239.28" width="9.76" height="1.70" fill="#F29D85"/>
<rect x="395.57" y="233.89" width="9.76" height="5.39" fill="#96C6DF"/>
<rect x="395.57" y="232.26" width="9.76" height="1.63" fill="#DDEEE8"/>
<rect x="395.57" y="231.41" width="9.76" height="0.85" fill="#91B5A8"/>
<rect x="395.57" y="219.00" width="9.76" height="12.41" fill="#A0A0A0"/>
<line x1="400.45" y1="293.44" x2="400.45" y2="294.75" stroke="#333" stroke-width="0.5"/>
<text transform="translate(406.25,299.75) rotate(-49)" text-anchor="end" font-size="6.9" fill="#222">DLD-1</text>
<rect x="406.42" y="255.73" width="9.76" height="34.17" fill="#F4685F"/>
<rect x="406.42" y="253.81" width="9.76" height="1.91" fill="#FDEBD8"/>
<rect x="406.42" y="240.98" width="9.76" height="12.83" fill="#3D5E80"/>
<rect x="406.42" y="239.28" width="9.76" height="1.70" fill="#F29D85"/>
<rect x="406.42" y="235.87" width="9.76" height="3.40" fill="#96C6DF"/>
<rect x="406.42" y="233.89" width="9.76" height="1.99" fill="#DDEEE8"/>
<rect x="406.42" y="232.97" width="9.76" height="0.92" fill="#91B5A8"/>
<rect x="406.42" y="219.00" width="9.76" height="13.97" fill="#A0A0A0"/>
<line x1="411.30" y1="293.44" x2="411.30" y2="294.75" stroke="#333" stroke-width="0.5"/>
<text transform="translate(417.10,299.75) rotate(-49)" text-anchor="end" font-size="6.9" fill="#222">HCT116</text>
<rect x="417.26" y="249.42" width="9.76" height="40.48" fill="#F4685F"/>
<rect x="417.26" y="248.07" width="9.76" height="1.35" fill="#FDEBD8"/>
<rect x="417.26" y="237.93" width="9.76" height="10.14" fill="#3D5E80"/>
<rect x="417.26" y="235.87" width="9.76" height="2.06" fill="#F29D85"/>
<rect x="417.26" y="233.18" width="9.76" height="2.69" fill="#96C6DF"/>
<rect x="417.26" y="231.83" width="9.76" height="1.35" fill="#DDEEE8"/>
<rect x="417.26" y="230.91" width="9.76" height="0.92" fill="#91B5A8"/>
<rect x="417.26" y="219.00" width="9.76" height="11.91" fill="#A0A0A0"/>
<line x1="422.14" y1="293.44" x2="422.14" y2="294.75" stroke="#333" stroke-width="0.5"/>
<text transform="translate(427.94,299.75) rotate(-49)" text-anchor="end" font-size="6.9" fill="#222">HT29</text>
<rect x="428.11" y="254.80" width="9.76" height="35.10" fill="#F4685F"/>
<rect x="428.11" y="253.46" width="9.76" height="1.35" fill="#FDEBD8"/>
<rect x="428.11" y="241.69" width="9.76" height="11.77" fill="#3D5E80"/>
<rect x="428.11" y="239.92" width="9.76" height="1.77" fill="#F29D85"/>
<rect x="428.11" y="235.87" width="9.76" height="4.04" fill="#96C6DF"/>
<rect x="428.11" y="233.89" width="9.76" height="1.99" fill="#DDEEE8"/>
<rect x="428.11" y="232.47" width="9.76" height="1.42" fill="#91B5A8"/>
<rect x="428.11" y="219.00" width="9.76" height="13.47" fill="#A0A0A0"/>
<line x1="432.99" y1="293.44" x2="432.99" y2="294.75" stroke="#333" stroke-width="0.5"/>
<text transform="translate(438.79,299.75) rotate(-49)" text-anchor="end" font-size="6.9" fill="#222">SW480</text>
<rect x="438.96" y="263.81" width="9.76" height="26.09" fill="#F4685F"/>
<rect x="438.96" y="261.54" width="9.76" height="2.27" fill="#FDEBD8"/>
<rect x="438.96" y="247.36" width="9.76" height="14.18" fill="#3D5E80"/>
<rect x="438.96" y="245.73" width="9.76" height="1.63" fill="#F29D85"/>
<rect x="438.96" y="239.92" width="9.76" height="5.81" fill="#96C6DF"/>
<rect x="438.96" y="238.57" width="9.76" height="1.35" fill="#DDEEE8"/>
<rect x="438.96" y="237.22" width="9.76" height="1.35" fill="#91B5A8"/>
<rect x="438.96" y="219.00" width="9.76" height="18.22" fill="#A0A0A0"/>
<line x1="443.84" y1="293.44" x2="443.84" y2="294.75" stroke="#333" stroke-width="0.5"/>
<text transform="translate(449.64,299.75) rotate(-49)" text-anchor="end" font-size="6.9" fill="#222">HEK293</text>
<rect x="449.80" y="267.35" width="9.76" height="22.55" fill="#F4685F"/>
<rect x="449.80" y="265.23" width="9.76" height="2.13" fill="#FDEBD8"/>
<rect x="449.80" y="248.71" width="9.76" height="16.52" fill="#3D5E80"/>
<rect x="449.80" y="246.93" width="9.76" height="1.77" fill="#F29D85"/>
<rect x="449.80" y="241.69" width="9.76" height="5.25" fill="#96C6DF"/>
<rect x="449.80" y="239.92" width="9.76" height="1.77" fill="#DDEEE8"/>
<rect x="449.80" y="238.57" width="9.76" height="1.35" fill="#91B5A8"/>
<rect x="449.80" y="219.00" width="9.76" height="19.57" fill="#A0A0A0"/>
<line x1="454.69" y1="293.44" x2="454.69" y2="294.75" stroke="#333" stroke-width="0.5"/>
<text transform="translate(460.49,299.75) rotate(-49)" text-anchor="end" font-size="6.9" fill="#222">HEK293T</text>
<rect x="460.65" y="259.77" width="9.76" height="30.13" fill="#F4685F"/>
<rect x="460.65" y="256.79" width="9.76" height="2.98" fill="#FDEBD8"/>
<rect x="460.65" y="241.69" width="9.76" height="15.10" fill="#3D5E80"/>
<rect x="460.65" y="239.92" width="9.76" height="1.77" fill="#F29D85"/>
<rect x="460.65" y="234.53" width="9.76" height="5.39" fill="#96C6DF"/>
<rect x="460.65" y="232.47" width="9.76" height="2.06" fill="#DDEEE8"/>
<rect x="460.65" y="231.41" width="9.76" height="1.06" fill="#91B5A8"/>
<rect x="460.65" y="219.00" width="9.76" height="12.41" fill="#A0A0A0"/>
<line x1="465.53" y1="293.44" x2="465.53" y2="294.75" stroke="#333" stroke-width="0.5"/>
<text transform="translate(471.33,299.75) rotate(-49)" text-anchor="end" font-size="6.9" fill="#222">Hela</text>
<rect x="471.50" y="251.40" width="9.76" height="38.50" fill="#F4685F"/>
<rect x="471.50" y="248.99" width="9.76" height="2.41" fill="#FDEBD8"/>
<rect x="471.50" y="239.92" width="9.76" height="9.08" fill="#3D5E80"/>
<rect x="471.50" y="236.94" width="9.76" height="2.98" fill="#F29D85"/>
<rect x="471.50" y="233.61" width="9.76" height="3.33" fill="#96C6DF"/>
<rect x="471.50" y="232.12" width="9.76" height="1.49" fill="#DDEEE8"/>
<rect x="471.50" y="231.12" width="9.76" height="0.99" fill="#91B5A8"/>
<rect x="471.50" y="219.00" width="9.76" height="12.12" fill="#A0A0A0"/>
<line x1="476.38" y1="293.44" x2="476.38" y2="294.75" stroke="#333" stroke-width="0.5"/>
<text transform="translate(482.18,299.75) rotate(-49)" text-anchor="end" font-size="6.9" fill="#222">HepG2</text>
<rect x="482.35" y="258.42" width="9.76" height="31.48" fill="#F4685F"/>
<rect x="482.35" y="254.45" width="9.76" height="3.97" fill="#FDEBD8"/>
<rect x="482.35" y="240.98" width="9.76" height="13.47" fill="#3D5E80"/>
<rect x="482.35" y="237.93" width="9.76" height="3.05" fill="#F29D85"/>
<rect x="482.35" y="233.89" width="9.76" height="4.04" fill="#96C6DF"/>
<rect x="482.35" y="232.26" width="9.76" height="1.63" fill="#DDEEE8"/>
<rect x="482.35" y="231.41" width="9.76" height="0.85" fill="#91B5A8"/>
<rect x="482.35" y="219.00" width="9.76" height="12.41" fill="#A0A0A0"/>
<line x1="487.23" y1="293.44" x2="487.23" y2="294.75" stroke="#333" stroke-width="0.5"/>
<text transform="translate(493.03,299.75) rotate(-49)" text-anchor="end" font-size="6.9" fill="#222">Huh7</text>
<rect x="493.19" y="267.64" width="9.76" height="22.26" fill="#F4685F"/>
<rect x="493.19" y="265.58" width="9.76" height="2.06" fill="#FDEBD8"/>
<rect x="493.19" y="245.94" width="9.76" height="19.64" fill="#3D5E80"/>
<rect x="493.19" y="243.96" width="9.76" height="1.99" fill="#F29D85"/>
<rect x="493.19" y="239.92" width="9.76" height="4.04" fill="#96C6DF"/>
<rect x="493.19" y="237.22" width="9.76" height="2.69" fill="#DDEEE8"/>
<rect x="493.19" y="235.87" width="9.76" height="1.35" fill="#91B5A8"/>
<rect x="493.19" y="219.00" width="9.76" height="16.87" fill="#A0A0A0"/>
<line x1="498.07" y1="293.44" x2="498.07" y2="294.75" stroke="#333" stroke-width="0.5"/>
<text transform="translate(503.87,299.75) rotate(-49)" text-anchor="end" font-size="6.9" fill="#222">IOSE</text>
<rect x="504.04" y="255.44" width="9.76" height="34.46" fill="#F4685F"/>
<rect x="504.04" y="253.46" width="9.76" height="1.99" fill="#FDEBD8"/>
<rect x="504.04" y="244.67" width="9.76" height="8.79" fill="#3D5E80"/>
<rect x="504.04" y="242.89" width="9.76" height="1.77" fill="#F29D85"/>
<rect x="504.04" y="238.57" width="9.76" height="4.32" fill="#96C6DF"/>
<rect x="504.04" y="237.22" width="9.76" height="1.35" fill="#DDEEE8"/>
<rect x="504.04" y="235.87" width="9.76" height="1.35" fill="#91B5A8"/>
<rect x="504.04" y="219.00" width="9.76" height="16.87" fill="#A0A0A0"/>
<line x1="508.92" y1="293.44" x2="508.92" y2="294.75" stroke="#333" stroke-width="0.5"/>
<text transform="translate(514.72,299.75) rotate(-49)" text-anchor="end" font-size="6.9" fill="#222">Jurkat</text>
<rect x="514.89" y="255.44" width="9.76" height="34.46" fill="#F4685F"/>
<rect x="514.89" y="252.46" width="9.76" height="2.98" fill="#FDEBD8"/>
<rect x="514.89" y="243.74" width="9.76" height="8.72" fill="#3D5E80"/>
<rect x="514.89" y="241.97" width="9.76" height="1.77" fill="#F29D85"/>
<rect x="514.89" y="237.22" width="9.76" height="4.75" fill="#96C6DF"/>
<rect x="514.89" y="235.24" width="9.76" height="1.99" fill="#DDEEE8"/>
<rect x="514.89" y="233.89" width="9.76" height="1.35" fill="#91B5A8"/>
<rect x="514.89" y="219.00" width="9.76" height="14.89" fill="#A0A0A0"/>
<line x1="519.77" y1="293.44" x2="519.77" y2="294.75" stroke="#333" stroke-width="0.5"/>
<text transform="translate(525.57,299.75) rotate(-49)" text-anchor="end" font-size="6.9" fill="#222">K562</text>
<rect x="525.73" y="273.95" width="9.76" height="15.95" fill="#F4685F"/>
<rect x="525.73" y="272.32" width="9.76" height="1.63" fill="#FDEBD8"/>
<rect x="525.73" y="252.75" width="9.76" height="19.57" fill="#3D5E80"/>
<rect x="525.73" y="249.13" width="9.76" height="3.62" fill="#F29D85"/>
<rect x="525.73" y="241.97" width="9.76" height="7.16" fill="#96C6DF"/>
<rect x="525.73" y="237.93" width="9.76" height="4.04" fill="#DDEEE8"/>
<rect x="525.73" y="236.16" width="9.76" height="1.77" fill="#91B5A8"/>
<rect x="525.73" y="219.00" width="9.76" height="17.16" fill="#A0A0A0"/>
<line x1="530.61" y1="293.44" x2="530.61" y2="294.75" stroke="#333" stroke-width="0.5"/>
<text transform="translate(536.41,299.75) rotate(-49)" text-anchor="end" font-size="6.9" fill="#222">HL60</text>
<rect x="536.58" y="246.30" width="9.76" height="43.60" fill="#F4685F"/>
<rect x="536.58" y="244.95" width="9.76" height="1.35" fill="#FDEBD8"/>
<rect x="536.58" y="236.94" width="9.76" height="8.01" fill="#3D5E80"/>
<rect x="536.58" y="235.24" width="9.76" height="1.70" fill="#F29D85"/>
<rect x="536.58" y="231.83" width="9.76" height="3.40" fill="#96C6DF"/>
<rect x="536.58" y="230.77" width="9.76" height="1.06" fill="#DDEEE8"/>
<rect x="536.58" y="230.06" width="9.76" height="0.71" fill="#91B5A8"/>
<rect x="536.58" y="219.00" width="9.76" height="11.06" fill="#A0A0A0"/>
<line x1="541.46" y1="293.44" x2="541.46" y2="294.75" stroke="#333" stroke-width="0.5"/>
<text transform="translate(547.26,299.75) rotate(-49)" text-anchor="end" font-size="6.9" fill="#222">MCF-7</text>
<rect x="547.43" y="258.42" width="9.76" height="31.48" fill="#F4685F"/>
<rect x="547.43" y="257.07" width="9.76" height="1.35" fill="#FDEBD8"/>
<rect x="547.43" y="228.86" width="9.76" height="28.22" fill="#3D5E80"/>
<rect x="547.43" y="228.08" width="9.76" height="0.78" fill="#F29D85"/>
<rect x="547.43" y="226.09" width="9.76" height="1.99" fill="#96C6DF"/>
<rect x="547.43" y="224.67" width="9.76" height="1.42" fill="#DDEEE8"/>
<rect x="547.43" y="223.32" width="9.76" height="1.35" fill="#91B5A8"/>
<rect x="547.43" y="219.00" width="9.76" height="4.32" fill="#A0A0A0"/>
<line x1="552.31" y1="293.44" x2="552.31" y2="294.75" stroke="#333" stroke-width="0.5"/>
<text transform="translate(558.11,299.75) rotate(-49)" text-anchor="end" font-size="6.9" fill="#222">MDA-MB-231</text>
<rect x="558.27" y="252.11" width="9.76" height="37.79" fill="#F4685F"/>
<rect x="558.27" y="250.05" width="9.76" height="2.06" fill="#FDEBD8"/>
<rect x="558.27" y="238.99" width="9.76" height="11.06" fill="#3D5E80"/>
<rect x="558.27" y="237.22" width="9.76" height="1.77" fill="#F29D85"/>
<rect x="558.27" y="234.53" width="9.76" height="2.69" fill="#96C6DF"/>
<rect x="558.27" y="233.18" width="9.76" height="1.35" fill="#DDEEE8"/>
<rect x="558.27" y="232.26" width="9.76" height="0.92" fill="#91B5A8"/>
<rect x="558.27" y="219.00" width="9.76" height="13.26" fill="#A0A0A0"/>
<line x1="563.16" y1="293.44" x2="563.16" y2="294.75" stroke="#333" stroke-width="0.5"/>
<text transform="translate(568.96,299.75) rotate(-49)" text-anchor="end" font-size="6.9" fill="#222">SH-SY5Y</text>
<rect x="569.12" y="250.05" width="9.76" height="39.85" fill="#F4685F"/>
<rect x="569.12" y="248.42" width="9.76" height="1.63" fill="#FDEBD8"/>
<rect x="569.12" y="237.22" width="9.76" height="11.20" fill="#3D5E80"/>
<rect x="569.12" y="235.87" width="9.76" height="1.35" fill="#F29D85"/>
<rect x="569.12" y="233.18" width="9.76" height="2.69" fill="#96C6DF"/>
<rect x="569.12" y="231.83" width="9.76" height="1.35" fill="#DDEEE8"/>
<rect x="569.12" y="230.91" width="9.76" height="0.92" fill="#91B5A8"/>
<rect x="569.12" y="219.00" width="9.76" height="11.91" fill="#A0A0A0"/>
<line x1="574.00" y1="293.44" x2="574.00" y2="294.75" stroke="#333" stroke-width="0.5"/>
<text transform="translate(579.80,299.75) rotate(-49)" text-anchor="end" font-size="6.9" fill="#222">U2OS</text>
<rect x="579.97" y="248.99" width="9.76" height="40.91" fill="#F4685F"/>
<rect x="579.97" y="247.08" width="9.76" height="1.91" fill="#FDEBD8"/>
<rect x="579.97" y="234.10" width="9.76" height="12.97" fill="#3D5E80"/>
<rect x="579.97" y="232.90" width="9.76" height="1.21" fill="#F29D85"/>
<rect x="579.97" y="230.91" width="9.76" height="1.99" fill="#96C6DF"/>
<rect x="579.97" y="229.14" width="9.76" height="1.77" fill="#DDEEE8"/>
<rect x="579.97" y="228.43" width="9.76" height="0.71" fill="#91B5A8"/>
<rect x="579.97" y="219.00" width="9.76" height="9.43" fill="#A0A0A0"/>
<line x1="584.85" y1="293.44" x2="584.85" y2="294.75" stroke="#333" stroke-width="0.5"/>
<text transform="translate(590.65,299.75) rotate(-49)" text-anchor="end" font-size="6.9" fill="#222">IMR90</text>
<rect x="590.82" y="246.93" width="9.76" height="42.97" fill="#F4685F"/>
<rect x="590.82" y="245.30" width="9.76" height="1.63" fill="#FDEBD8"/>
<rect x="590.82" y="236.94" width="9.76" height="8.37" fill="#3D5E80"/>
<rect x="590.82" y="234.53" width="9.76" height="2.41" fill="#F29D85"/>
<rect x="590.82" y="228.86" width="9.76" height="5.67" fill="#96C6DF"/>
<rect x="590.82" y="227.08" width="9.76" height="1.77" fill="#DDEEE8"/>
<rect x="590.82" y="226.44" width="9.76" height="0.64" fill="#91B5A8"/>
<rect x="590.82" y="219.00" width="9.76" height="7.44" fill="#A0A0A0"/>
<line x1="595.70" y1="293.44" x2="595.70" y2="294.75" stroke="#333" stroke-width="0.5"/>
<text transform="translate(601.50,299.75) rotate(-49)" text-anchor="end" font-size="6.9" fill="#222">3T3-L1</text>
<rect x="601.66" y="244.95" width="9.76" height="44.95" fill="#F4685F"/>
<rect x="601.66" y="243.96" width="9.76" height="0.99" fill="#FDEBD8"/>
<rect x="601.66" y="235.24" width="9.76" height="8.72" fill="#3D5E80"/>
<rect x="601.66" y="232.26" width="9.76" height="2.98" fill="#F29D85"/>
<rect x="601.66" y="228.08" width="9.76" height="4.18" fill="#96C6DF"/>
<rect x="601.66" y="225.74" width="9.76" height="2.34" fill="#DDEEE8"/>
<rect x="601.66" y="224.67" width="9.76" height="1.06" fill="#91B5A8"/>
<rect x="601.66" y="219.00" width="9.76" height="5.67" fill="#A0A0A0"/>
<line x1="606.54" y1="293.44" x2="606.54" y2="294.75" stroke="#333" stroke-width="0.5"/>
<text transform="translate(612.34,299.75) rotate(-49)" text-anchor="end" font-size="6.9" fill="#222">NIH3T3</text>
<rect x="612.51" y="270.76" width="9.76" height="19.14" fill="#F4685F"/>
<rect x="612.51" y="270.05" width="9.76" height="0.71" fill="#FDEBD8"/>
<rect x="612.51" y="252.75" width="9.76" height="17.30" fill="#3D5E80"/>
<rect x="612.51" y="248.42" width="9.76" height="4.32" fill="#F29D85"/>
<rect x="612.51" y="235.87" width="9.76" height="12.55" fill="#96C6DF"/>
<rect x="612.51" y="231.83" width="9.76" height="4.04" fill="#DDEEE8"/>
<rect x="612.51" y="231.12" width="9.76" height="0.71" fill="#91B5A8"/>
<rect x="612.51" y="219.00" width="9.76" height="12.12" fill="#A0A0A0"/>
<line x1="617.39" y1="293.44" x2="617.39" y2="294.75" stroke="#333" stroke-width="0.5"/>
<text transform="translate(623.19,299.75) rotate(-49)" text-anchor="end" font-size="6.9" fill="#222">ESC</text>
<line x1="361.40" y1="215.46" x2="361.40" y2="293.44" stroke="#444" stroke-width="0.9"/>
<line x1="360.95" y1="293.44" x2="623.90" y2="293.44" stroke="#444" stroke-width="0.9"/>
<line x1="359.90" y1="219.00" x2="361.40" y2="219.00" stroke="#444" stroke-width="0.5"/>
<text x="359.40" y="221.90" text-anchor="end" font-size="8.4" fill="#333">1.00</text>
<line x1="359.90" y1="236.72" x2="361.40" y2="236.72" stroke="#444" stroke-width="0.5"/>
<text x="359.40" y="239.62" text-anchor="end" font-size="8.4" fill="#333">0.75</text>
<line x1="359.90" y1="254.45" x2="361.40" y2="254.45" stroke="#444" stroke-width="0.5"/>
<text x="359.40" y="257.35" text-anchor="end" font-size="8.4" fill="#333">0.50</text>
<line x1="359.90" y1="272.17" x2="361.40" y2="272.17" stroke="#444" stroke-width="0.5"/>
<text x="359.40" y="275.07" text-anchor="end" font-size="8.4" fill="#333">0.25</text>
<line x1="359.90" y1="289.90" x2="361.40" y2="289.90" stroke="#444" stroke-width="0.5"/>
<text x="359.40" y="292.80" text-anchor="end" font-size="8.4" fill="#333">0.00</text>
<text transform="translate(339.00,258.10) rotate(-90)" text-anchor="middle" font-size="8.3" fill="#111">Small RNA ratio</text>
<text x="497.00" y="213.00" text-anchor="middle" font-size="7.5" fill="#111">Cell lines</text>
<rect x="363.66" y="377.74" width="12.95" height="37.66" fill="#F4685F"/>
<rect x="363.66" y="370.27" width="12.95" height="7.46" fill="#FDEBD8"/>
<rect x="363.66" y="361.76" width="12.95" height="8.52" fill="#3D5E80"/>
<rect x="363.66" y="360.14" width="12.95" height="1.62" fill="#F29D85"/>
<rect x="363.66" y="357.95" width="12.95" height="2.18" fill="#96C6DF"/>
<rect x="363.66" y="356.26" width="12.95" height="1.69" fill="#DDEEE8"/>
<rect x="363.66" y="355.63" width="12.95" height="0.63" fill="#91B5A8"/>
<rect x="363.66" y="345.00" width="12.95" height="10.63" fill="#A0A0A0"/>
<line x1="370.13" y1="418.92" x2="370.13" y2="420.22" stroke="#333" stroke-width="0.5"/>
<text transform="translate(375.93,425.22) rotate(-49)" text-anchor="end" font-size="6.9" fill="#222">Adipose</text>
<rect x="378.05" y="382.95" width="12.95" height="32.45" fill="#F4685F"/>
<rect x="378.05" y="370.63" width="12.95" height="12.32" fill="#FDEBD8"/>
<rect x="378.05" y="364.50" width="12.95" height="6.12" fill="#3D5E80"/>
<rect x="378.05" y="362.88" width="12.95" height="1.62" fill="#F29D85"/>
<rect x="378.05" y="359.71" width="12.95" height="3.17" fill="#96C6DF"/>
<rect x="378.05" y="356.05" width="12.95" height="3.66" fill="#DDEEE8"/>
<rect x="378.05" y="355.21" width="12.95" height="0.84" fill="#91B5A8"/>
<rect x="378.05" y="345.00" width="12.95" height="10.21" fill="#A0A0A0"/>
<line x1="384.52" y1="418.92" x2="384.52" y2="420.22" stroke="#333" stroke-width="0.5"/>
<text transform="translate(390.32,425.22) rotate(-49)" text-anchor="end" font-size="6.9" fill="#222">Brain</text>
<rect x="392.44" y="368.30" width="12.95" height="47.10" fill="#F4685F"/>
<rect x="392.44" y="361.76" width="12.95" height="6.55" fill="#FDEBD8"/>
<rect x="392.44" y="357.95" width="12.95" height="3.80" fill="#3D5E80"/>
<rect x="392.44" y="356.33" width="12.95" height="1.62" fill="#F29D85"/>
<rect x="392.44" y="354.93" width="12.95" height="1.41" fill="#96C6DF"/>
<rect x="392.44" y="354.01" width="12.95" height="0.92" fill="#DDEEE8"/>
<rect x="392.44" y="353.59" width="12.95" height="0.42" fill="#91B5A8"/>
<rect x="392.44" y="345.00" width="12.95" height="8.59" fill="#A0A0A0"/>
<line x1="398.91" y1="418.92" x2="398.91" y2="420.22" stroke="#333" stroke-width="0.5"/>
<text transform="translate(404.71,425.22) rotate(-49)" text-anchor="end" font-size="6.9" fill="#222">Breast</text>
<rect x="406.83" y="368.87" width="12.95" height="46.53" fill="#F4685F"/>
<rect x="406.83" y="365.63" width="12.95" height="3.24" fill="#FDEBD8"/>
<rect x="406.83" y="360.00" width="12.95" height="5.63" fill="#3D5E80"/>
<rect x="406.83" y="358.80" width="12.95" height="1.20" fill="#F29D85"/>
<rect x="406.83" y="356.76" width="12.95" height="2.04" fill="#96C6DF"/>
<rect x="406.83" y="355.35" width="12.95" height="1.41" fill="#DDEEE8"/>
<rect x="406.83" y="354.93" width="12.95" height="0.42" fill="#91B5A8"/>
<rect x="406.83" y="345.00" width="12.95" height="9.93" fill="#A0A0A0"/>
<line x1="413.30" y1="418.92" x2="413.30" y2="420.22" stroke="#333" stroke-width="0.5"/>
<text transform="translate(419.10,425.22) rotate(-49)" text-anchor="end" font-size="6.9" fill="#222">Colon</text>
<rect x="421.22" y="368.87" width="12.95" height="46.53" fill="#F4685F"/>
<rect x="421.22" y="364.92" width="12.95" height="3.94" fill="#FDEBD8"/>
<rect x="421.22" y="361.76" width="12.95" height="3.17" fill="#3D5E80"/>
<rect x="421.22" y="360.84" width="12.95" height="0.92" fill="#F29D85"/>
<rect x="421.22" y="359.08" width="12.95" height="1.76" fill="#96C6DF"/>
<rect x="421.22" y="358.38" width="12.95" height="0.70" fill="#DDEEE8"/>
<rect x="421.22" y="355.21" width="12.95" height="3.17" fill="#91B5A8"/>
<rect x="421.22" y="345.00" width="12.95" height="10.21" fill="#A0A0A0"/>
<line x1="427.69" y1="418.92" x2="427.69" y2="420.22" stroke="#333" stroke-width="0.5"/>
<text transform="translate(433.49,425.22) rotate(-49)" text-anchor="end" font-size="6.9" fill="#222">Heart</text>
<rect x="435.61" y="367.67" width="12.95" height="47.73" fill="#F4685F"/>
<rect x="435.61" y="364.50" width="12.95" height="3.17" fill="#FDEBD8"/>
<rect x="435.61" y="359.08" width="12.95" height="5.42" fill="#3D5E80"/>
<rect x="435.61" y="357.67" width="12.95" height="1.41" fill="#F29D85"/>
<rect x="435.61" y="356.33" width="12.95" height="1.34" fill="#96C6DF"/>
<rect x="435.61" y="355.21" width="12.95" height="1.13" fill="#DDEEE8"/>
<rect x="435.61" y="354.72" width="12.95" height="0.49" fill="#91B5A8"/>
<rect x="435.61" y="345.00" width="12.95" height="9.72" fill="#A0A0A0"/>
<line x1="442.08" y1="418.92" x2="442.08" y2="420.22" stroke="#333" stroke-width="0.5"/>
<text transform="translate(447.88,425.22) rotate(-49)" text-anchor="end" font-size="6.9" fill="#222">Muscle</text>
<rect x="450.00" y="364.08" width="12.95" height="51.32" fill="#F4685F"/>
<rect x="450.00" y="362.04" width="12.95" height="2.04" fill="#FDEBD8"/>
<rect x="450.00" y="359.08" width="12.95" height="2.96" fill="#3D5E80"/>
<rect x="450.00" y="357.04" width="12.95" height="2.04" fill="#F29D85"/>
<rect x="450.00" y="354.93" width="12.95" height="2.11" fill="#96C6DF"/>
<rect x="450.00" y="354.01" width="12.95" height="0.92" fill="#DDEEE8"/>
<rect x="450.00" y="353.59" width="12.95" height="0.42" fill="#91B5A8"/>
<rect x="450.00" y="345.00" width="12.95" height="8.59" fill="#A0A0A0"/>
<line x1="456.47" y1="418.92" x2="456.47" y2="420.22" stroke="#333" stroke-width="0.5"/>
<text transform="translate(462.27,425.22) rotate(-49)" text-anchor="end" font-size="6.9" fill="#222">Kidney</text>
<rect x="464.39" y="374.71" width="12.95" height="40.69" fill="#F4685F"/>
<rect x="464.39" y="370.63" width="12.95" height="4.08" fill="#FDEBD8"/>
<rect x="464.39" y="362.88" width="12.95" height="7.74" fill="#3D5E80"/>
<rect x="464.39" y="360.84" width="12.95" height="2.04" fill="#F29D85"/>
<rect x="464.39" y="357.95" width="12.95" height="2.89" fill="#96C6DF"/>
<rect x="464.39" y="356.48" width="12.95" height="1.48" fill="#DDEEE8"/>
<rect x="464.39" y="356.05" width="12.95" height="0.42" fill="#91B5A8"/>
<rect x="464.39" y="345.00" width="12.95" height="11.05" fill="#A0A0A0"/>
<line x1="470.86" y1="418.92" x2="470.86" y2="420.22" stroke="#333" stroke-width="0.5"/>
<text transform="translate(476.66,425.22) rotate(-49)" text-anchor="end" font-size="6.9" fill="#222">Liver</text>
<rect x="478.78" y="359.08" width="12.95" height="56.32" fill="#F4685F"/>
<rect x="478.78" y="356.33" width="12.95" height="2.75" fill="#FDEBD8"/>
<rect x="478.78" y="353.87" width="12.95" height="2.46" fill="#3D5E80"/>
<rect x="478.78" y="352.88" width="12.95" height="0.99" fill="#F29D85"/>
<rect x="478.78" y="351.97" width="12.95" height="0.92" fill="#96C6DF"/>
<rect x="478.78" y="351.20" width="12.95" height="0.77" fill="#DDEEE8"/>
<rect x="478.78" y="350.84" width="12.95" height="0.35" fill="#91B5A8"/>
<rect x="478.78" y="345.00" width="12.95" height="5.84" fill="#A0A0A0"/>
<line x1="485.25" y1="418.92" x2="485.25" y2="420.22" stroke="#333" stroke-width="0.5"/>
<text transform="translate(491.05,425.22) rotate(-49)" text-anchor="end" font-size="6.9" fill="#222">Lung</text>
<rect x="493.17" y="372.67" width="12.95" height="42.73" fill="#F4685F"/>
<rect x="493.17" y="366.96" width="12.95" height="5.70" fill="#FDEBD8"/>
<rect x="493.17" y="358.80" width="12.95" height="8.17" fill="#3D5E80"/>
<rect x="493.17" y="356.05" width="12.95" height="2.75" fill="#F29D85"/>
<rect x="493.17" y="354.72" width="12.95" height="1.34" fill="#96C6DF"/>
<rect x="493.17" y="352.74" width="12.95" height="1.97" fill="#DDEEE8"/>
<rect x="493.17" y="352.25" width="12.95" height="0.49" fill="#91B5A8"/>
<rect x="493.17" y="345.00" width="12.95" height="7.25" fill="#A0A0A0"/>
<line x1="499.65" y1="418.92" x2="499.65" y2="420.22" stroke="#333" stroke-width="0.5"/>
<text transform="translate(505.45,425.22) rotate(-49)" text-anchor="end" font-size="6.9" fill="#222">Pancreas</text>
<rect x="507.56" y="363.80" width="12.95" height="51.60" fill="#F4685F"/>
<rect x="507.56" y="360.14" width="12.95" height="3.66" fill="#FDEBD8"/>
<rect x="507.56" y="355.91" width="12.95" height="4.22" fill="#3D5E80"/>
<rect x="507.56" y="354.72" width="12.95" height="1.20" fill="#F29D85"/>
<rect x="507.56" y="353.31" width="12.95" height="1.41" fill="#96C6DF"/>
<rect x="507.56" y="352.53" width="12.95" height="0.77" fill="#DDEEE8"/>
<rect x="507.56" y="352.25" width="12.95" height="0.28" fill="#91B5A8"/>
<rect x="507.56" y="345.00" width="12.95" height="7.25" fill="#A0A0A0"/>
<line x1="514.04" y1="418.92" x2="514.04" y2="420.22" stroke="#333" stroke-width="0.5"/>
<text transform="translate(519.84,425.22) rotate(-49)" text-anchor="end" font-size="6.9" fill="#222">Rectum</text>
<rect x="521.95" y="366.82" width="12.95" height="48.58" fill="#F4685F"/>
<rect x="521.95" y="360.14" width="12.95" height="6.69" fill="#FDEBD8"/>
<rect x="521.95" y="355.91" width="12.95" height="4.22" fill="#3D5E80"/>
<rect x="521.95" y="354.29" width="12.95" height="1.62" fill="#F29D85"/>
<rect x="521.95" y="353.31" width="12.95" height="0.99" fill="#96C6DF"/>
<rect x="521.95" y="352.74" width="12.95" height="0.56" fill="#DDEEE8"/>
<rect x="521.95" y="352.53" width="12.95" height="0.21" fill="#91B5A8"/>
<rect x="521.95" y="345.00" width="12.95" height="7.53" fill="#A0A0A0"/>
<line x1="528.43" y1="418.92" x2="528.43" y2="420.22" stroke="#333" stroke-width="0.5"/>
<text transform="translate(534.23,425.22) rotate(-49)" text-anchor="end" font-size="6.9" fill="#222">Skin</text>
<rect x="536.34" y="367.95" width="12.95" height="47.45" fill="#F4685F"/>
<rect x="536.34" y="365.91" width="12.95" height="2.04" fill="#FDEBD8"/>
<rect x="536.34" y="362.04" width="12.95" height="3.87" fill="#3D5E80"/>
<rect x="536.34" y="358.80" width="12.95" height="3.24" fill="#F29D85"/>
<rect x="536.34" y="356.33" width="12.95" height="2.46" fill="#96C6DF"/>
<rect x="536.34" y="355.21" width="12.95" height="1.13" fill="#DDEEE8"/>
<rect x="536.34" y="354.72" width="12.95" height="0.49" fill="#91B5A8"/>
<rect x="536.34" y="345.00" width="12.95" height="9.72" fill="#A0A0A0"/>
<line x1="542.82" y1="418.92" x2="542.82" y2="420.22" stroke="#333" stroke-width="0.5"/>
<text transform="translate(548.62,425.22) rotate(-49)" text-anchor="end" font-size="6.9" fill="#222">Spleen</text>
<rect x="550.73" y="360.00" width="12.95" height="55.40" fill="#F4685F"/>
<rect x="550.73" y="357.04" width="12.95" height="2.96" fill="#FDEBD8"/>
<rect x="550.73" y="353.59" width="12.95" height="3.45" fill="#3D5E80"/>
<rect x="550.73" y="352.67" width="12.95" height="0.92" fill="#F29D85"/>
<rect x="550.73" y="351.55" width="12.95" height="1.13" fill="#96C6DF"/>
<rect x="550.73" y="351.12" width="12.95" height="0.42" fill="#DDEEE8"/>
<rect x="550.73" y="350.84" width="12.95" height="0.28" fill="#91B5A8"/>
<rect x="550.73" y="345.00" width="12.95" height="5.84" fill="#A0A0A0"/>
<line x1="557.21" y1="418.92" x2="557.21" y2="420.22" stroke="#333" stroke-width="0.5"/>
<text transform="translate(563.01,425.22) rotate(-49)" text-anchor="end" font-size="6.9" fill="#222">Stomach</text>
<rect x="565.12" y="377.88" width="12.95" height="37.52" fill="#F4685F"/>
<rect x="565.12" y="371.75" width="12.95" height="6.12" fill="#FDEBD8"/>
<rect x="565.12" y="364.78" width="12.95" height="6.97" fill="#3D5E80"/>
<rect x="565.12" y="362.04" width="12.95" height="2.75" fill="#F29D85"/>
<rect x="565.12" y="357.95" width="12.95" height="4.08" fill="#96C6DF"/>
<rect x="565.12" y="356.62" width="12.95" height="1.34" fill="#DDEEE8"/>
<rect x="565.12" y="356.33" width="12.95" height="0.28" fill="#91B5A8"/>
<rect x="565.12" y="345.00" width="12.95" height="11.33" fill="#A0A0A0"/>
<line x1="571.60" y1="418.92" x2="571.60" y2="420.22" stroke="#333" stroke-width="0.5"/>
<text transform="translate(577.40,425.22) rotate(-49)" text-anchor="end" font-size="6.9" fill="#222">Thymus</text>
<rect x="579.51" y="356.33" width="12.95" height="59.07" fill="#F4685F"/>
<rect x="579.51" y="355.63" width="12.95" height="0.70" fill="#F29D85"/>
<rect x="579.51" y="345.00" width="12.95" height="10.63" fill="#A0A0A0"/>
<line x1="585.99" y1="418.92" x2="585.99" y2="420.22" stroke="#333" stroke-width="0.5"/>
<text transform="translate(591.79,425.22) rotate(-49)" text-anchor="end" font-size="6.9" fill="#222">Blood</text>
<rect x="593.90" y="354.29" width="12.95" height="61.11" fill="#F4685F"/>
<rect x="593.90" y="345.00" width="12.95" height="9.29" fill="#A0A0A0"/>
<line x1="600.38" y1="418.92" x2="600.38" y2="420.22" stroke="#333" stroke-width="0.5"/>
<text transform="translate(606.18,425.22) rotate(-49)" text-anchor="end" font-size="6.9" fill="#222">Erythrocyte</text>
<rect x="608.29" y="374.71" width="12.95" height="40.69" fill="#F4685F"/>
<rect x="608.29" y="373.79" width="12.95" height="0.92" fill="#FDEBD8"/>
<rect x="608.29" y="371.33" width="12.95" height="2.46" fill="#3D5E80"/>
<rect x="608.29" y="365.91" width="12.95" height="5.42" fill="#F29D85"/>
<rect x="608.29" y="359.71" width="12.95" height="6.20" fill="#96C6DF"/>
<rect x="608.29" y="358.73" width="12.95" height="0.99" fill="#DDEEE8"/>
<rect x="608.29" y="358.38" width="12.95" height="0.35" fill="#91B5A8"/>
<rect x="608.29" y="345.00" width="12.95" height="13.38" fill="#A0A0A0"/>
<line x1="614.77" y1="418.92" x2="614.77" y2="420.22" stroke="#333" stroke-width="0.5"/>
<text transform="translate(620.57,425.22) rotate(-49)" text-anchor="end" font-size="6.9" fill="#222">Leukocyte</text>
<line x1="361.50" y1="341.48" x2="361.50" y2="418.92" stroke="#444" stroke-width="0.9"/>
<line x1="361.05" y1="418.92" x2="623.40" y2="418.92" stroke="#444" stroke-width="0.9"/>
<line x1="360.00" y1="345.00" x2="361.50" y2="345.00" stroke="#444" stroke-width="0.5"/>
<text x="359.50" y="347.90" text-anchor="end" font-size="8.4" fill="#333">1.00</text>
<line x1="360.00" y1="362.60" x2="361.50" y2="362.60" stroke="#444" stroke-width="0.5"/>
<text x="359.50" y="365.50" text-anchor="end" font-size="8.4" fill="#333">0.75</text>
<line x1="360.00" y1="380.20" x2="361.50" y2="380.20" stroke="#444" stroke-width="0.5"/>
<text x="359.50" y="383.10" text-anchor="end" font-size="8.4" fill="#333">0.50</text>
<line x1="360.00" y1="397.80" x2="361.50" y2="397.80" stroke="#444" stroke-width="0.5"/>
<text x="359.50" y="400.70" text-anchor="end" font-size="8.4" fill="#333">0.25</text>
<line x1="360.00" y1="415.40" x2="361.50" y2="415.40" stroke="#444" stroke-width="0.5"/>
<text x="359.50" y="418.30" text-anchor="end" font-size="8.4" fill="#333">0.00</text>
<text transform="translate(338.30,382.80) rotate(-90)" text-anchor="middle" font-size="8.3" fill="#111">Small RNA ratio</text>
<text x="495.60" y="340.20" text-anchor="middle" font-size="7.5" fill="#111">Monkey</text>
<rect x="365.15" y="491.80" width="11.70" height="45.30" fill="#F4685F"/>
<rect x="365.15" y="486.05" width="11.70" height="5.75" fill="#FDEBD8"/>
<rect x="365.15" y="474.55" width="11.70" height="11.50" fill="#3D5E80"/>
<rect x="365.15" y="473.41" width="11.70" height="1.14" fill="#F29D85"/>
<rect x="365.15" y="471.71" width="11.70" height="1.70" fill="#96C6DF"/>
<rect x="365.15" y="471.07" width="11.70" height="0.64" fill="#DDEEE8"/>
<rect x="365.15" y="469.37" width="11.70" height="1.70" fill="#91B5A8"/>
<rect x="365.15" y="466.10" width="11.70" height="3.27" fill="#A0A0A0"/>
<line x1="371.00" y1="540.65" x2="371.00" y2="541.95" stroke="#333" stroke-width="0.5"/>
<text transform="translate(376.80,546.95) rotate(-49)" text-anchor="end" font-size="6.9" fill="#222">Adipose</text>
<rect x="378.15" y="486.19" width="11.70" height="50.91" fill="#F4685F"/>
<rect x="378.15" y="485.06" width="11.70" height="1.14" fill="#FDEBD8"/>
<rect x="378.15" y="476.89" width="11.70" height="8.16" fill="#3D5E80"/>
<rect x="378.15" y="475.97" width="11.70" height="0.92" fill="#F29D85"/>
<rect x="378.15" y="472.70" width="11.70" height="3.27" fill="#96C6DF"/>
<rect x="378.15" y="471.71" width="11.70" height="0.99" fill="#DDEEE8"/>
<rect x="378.15" y="466.10" width="11.70" height="5.61" fill="#A0A0A0"/>
<line x1="384.00" y1="540.65" x2="384.00" y2="541.95" stroke="#333" stroke-width="0.5"/>
<text transform="translate(389.80,546.95) rotate(-49)" text-anchor="end" font-size="6.9" fill="#222">Brain</text>
<rect x="391.15" y="489.03" width="11.70" height="48.07" fill="#F4685F"/>
<rect x="391.15" y="481.15" width="11.70" height="7.88" fill="#FDEBD8"/>
<rect x="391.15" y="472.42" width="11.70" height="8.73" fill="#3D5E80"/>
<rect x="391.15" y="471.00" width="11.70" height="1.42" fill="#F29D85"/>
<rect x="391.15" y="469.86" width="11.70" height="1.14" fill="#96C6DF"/>
<rect x="391.15" y="469.30" width="11.70" height="0.57" fill="#DDEEE8"/>
<rect x="391.15" y="466.10" width="11.70" height="3.19" fill="#A0A0A0"/>
<line x1="397.00" y1="540.65" x2="397.00" y2="541.95" stroke="#333" stroke-width="0.5"/>
<text transform="translate(402.80,546.95) rotate(-49)" text-anchor="end" font-size="6.9" fill="#222">Breast</text>
<rect x="404.15" y="488.89" width="11.70" height="48.21" fill="#F4685F"/>
<rect x="404.15" y="485.06" width="11.70" height="3.83" fill="#FDEBD8"/>
<rect x="404.15" y="475.97" width="11.70" height="9.09" fill="#3D5E80"/>
<rect x="404.15" y="474.12" width="11.70" height="1.85" fill="#F29D85"/>
<rect x="404.15" y="471.71" width="11.70" height="2.41" fill="#96C6DF"/>
<rect x="404.15" y="470.72" width="11.70" height="0.99" fill="#DDEEE8"/>
<rect x="404.15" y="466.10" width="11.70" height="4.62" fill="#A0A0A0"/>
<line x1="410.00" y1="540.65" x2="410.00" y2="541.95" stroke="#333" stroke-width="0.5"/>
<text transform="translate(415.80,546.95) rotate(-49)" text-anchor="end" font-size="6.9" fill="#222">Colon</text>
<rect x="417.15" y="488.18" width="11.70" height="48.92" fill="#F4685F"/>
<rect x="417.15" y="485.77" width="11.70" height="2.41" fill="#FDEBD8"/>
<rect x="417.15" y="475.97" width="11.70" height="9.80" fill="#3D5E80"/>
<rect x="417.15" y="474.55" width="11.70" height="1.42" fill="#F29D85"/>
<rect x="417.15" y="472.42" width="11.70" height="2.13" fill="#96C6DF"/>
<rect x="417.15" y="471.28" width="11.70" height="1.14" fill="#DDEEE8"/>
<rect x="417.15" y="466.10" width="11.70" height="5.18" fill="#A0A0A0"/>
<line x1="423.00" y1="540.65" x2="423.00" y2="541.95" stroke="#333" stroke-width="0.5"/>
<text transform="translate(428.80,546.95) rotate(-49)" text-anchor="end" font-size="6.9" fill="#222">Heart</text>
<rect x="430.15" y="483.85" width="11.70" height="53.25" fill="#F4685F"/>
<rect x="430.15" y="482.00" width="11.70" height="1.85" fill="#FDEBD8"/>
<rect x="430.15" y="473.41" width="11.70" height="8.59" fill="#3D5E80"/>
<rect x="430.15" y="472.70" width="11.70" height="0.71" fill="#F29D85"/>
<rect x="430.15" y="471.28" width="11.70" height="1.42" fill="#96C6DF"/>
<rect x="430.15" y="470.57" width="11.70" height="0.71" fill="#DDEEE8"/>
<rect x="430.15" y="466.10" width="11.70" height="4.47" fill="#A0A0A0"/>
<line x1="436.00" y1="540.65" x2="436.00" y2="541.95" stroke="#333" stroke-width="0.5"/>
<text transform="translate(441.80,546.95) rotate(-49)" text-anchor="end" font-size="6.9" fill="#222">Muscle</text>
<rect x="443.15" y="495.64" width="11.70" height="41.46" fill="#F4685F"/>
<rect x="443.15" y="493.08" width="11.70" height="2.56" fill="#FDEBD8"/>
<rect x="443.15" y="479.87" width="11.70" height="13.21" fill="#3D5E80"/>
<rect x="443.15" y="478.03" width="11.70" height="1.85" fill="#F29D85"/>
<rect x="443.15" y="472.70" width="11.70" height="5.32" fill="#96C6DF"/>
<rect x="443.15" y="471.43" width="11.70" height="1.28" fill="#DDEEE8"/>
<rect x="443.15" y="466.10" width="11.70" height="5.32" fill="#A0A0A0"/>
<line x1="449.00" y1="540.65" x2="449.00" y2="541.95" stroke="#333" stroke-width="0.5"/>
<text transform="translate(454.80,546.95) rotate(-49)" text-anchor="end" font-size="6.9" fill="#222">Kidney</text>
<rect x="456.15" y="503.80" width="11.70" height="33.30" fill="#F4685F"/>
<rect x="456.15" y="501.25" width="11.70" height="2.56" fill="#FDEBD8"/>
<rect x="456.15" y="480.58" width="11.70" height="20.66" fill="#3D5E80"/>
<rect x="456.15" y="478.31" width="11.70" height="2.27" fill="#F29D85"/>
<rect x="456.15" y="473.13" width="11.70" height="5.18" fill="#96C6DF"/>
<rect x="456.15" y="471.71" width="11.70" height="1.42" fill="#DDEEE8"/>
<rect x="456.15" y="466.10" width="11.70" height="5.61" fill="#A0A0A0"/>
<line x1="462.00" y1="540.65" x2="462.00" y2="541.95" stroke="#333" stroke-width="0.5"/>
<text transform="translate(467.80,546.95) rotate(-49)" text-anchor="end" font-size="6.9" fill="#222">Liver</text>
<rect x="469.15" y="479.02" width="11.70" height="58.08" fill="#F4685F"/>
<rect x="469.15" y="478.03" width="11.70" height="0.99" fill="#FDEBD8"/>
<rect x="469.15" y="473.84" width="11.70" height="4.19" fill="#3D5E80"/>
<rect x="469.15" y="472.85" width="11.70" height="0.99" fill="#F29D85"/>
<rect x="469.15" y="470.29" width="11.70" height="2.56" fill="#96C6DF"/>
<rect x="469.15" y="469.58" width="11.70" height="0.71" fill="#DDEEE8"/>
<rect x="469.15" y="466.10" width="11.70" height="3.48" fill="#A0A0A0"/>
<line x1="475.00" y1="540.65" x2="475.00" y2="541.95" stroke="#333" stroke-width="0.5"/>
<text transform="translate(480.80,546.95) rotate(-49)" text-anchor="end" font-size="6.9" fill="#222">Lung</text>
<rect x="482.15" y="509.27" width="11.70" height="27.83" fill="#F4685F"/>
<rect x="482.15" y="506.85" width="11.70" height="2.41" fill="#FDEBD8"/>
<rect x="482.15" y="478.74" width="11.70" height="28.12" fill="#3D5E80"/>
<rect x="482.15" y="475.54" width="11.70" height="3.20" fill="#F29D85"/>
<rect x="482.15" y="471.71" width="11.70" height="3.83" fill="#96C6DF"/>
<rect x="482.15" y="470.72" width="11.70" height="0.99" fill="#DDEEE8"/>
<rect x="482.15" y="466.10" width="11.70" height="4.62" fill="#A0A0A0"/>
<line x1="488.00" y1="540.65" x2="488.00" y2="541.95" stroke="#333" stroke-width="0.5"/>
<text transform="translate(493.80,546.95) rotate(-49)" text-anchor="end" font-size="6.9" fill="#222">Pancreas</text>
<rect x="495.15" y="486.48" width="11.70" height="50.62" fill="#F4685F"/>
<rect x="495.15" y="484.63" width="11.70" height="1.85" fill="#FDEBD8"/>
<rect x="495.15" y="476.68" width="11.70" height="7.95" fill="#3D5E80"/>
<rect x="495.15" y="474.98" width="11.70" height="1.70" fill="#F29D85"/>
<rect x="495.15" y="471.71" width="11.70" height="3.27" fill="#96C6DF"/>
<rect x="495.15" y="470.72" width="11.70" height="0.99" fill="#DDEEE8"/>
<rect x="495.15" y="466.10" width="11.70" height="4.62" fill="#A0A0A0"/>
<line x1="501.00" y1="540.65" x2="501.00" y2="541.95" stroke="#333" stroke-width="0.5"/>
<text transform="translate(506.80,546.95) rotate(-49)" text-anchor="end" font-size="6.9" fill="#222">Rectum</text>
<rect x="508.15" y="490.74" width="11.70" height="46.36" fill="#F4685F"/>
<rect x="508.15" y="479.16" width="11.70" height="11.57" fill="#FDEBD8"/>
<rect x="508.15" y="471.71" width="11.70" height="7.46" fill="#3D5E80"/>
<rect x="508.15" y="470.72" width="11.70" height="0.99" fill="#F29D85"/>
<rect x="508.15" y="469.86" width="11.70" height="0.85" fill="#96C6DF"/>
<rect x="508.15" y="468.94" width="11.70" height="0.92" fill="#DDEEE8"/>
<rect x="508.15" y="466.10" width="11.70" height="2.84" fill="#A0A0A0"/>
<line x1="514.00" y1="540.65" x2="514.00" y2="541.95" stroke="#333" stroke-width="0.5"/>
<text transform="translate(519.80,546.95) rotate(-49)" text-anchor="end" font-size="6.9" fill="#222">Skin</text>
<rect x="521.15" y="487.61" width="11.70" height="49.49" fill="#F4685F"/>
<rect x="521.15" y="486.48" width="11.70" height="1.14" fill="#FDEBD8"/>
<rect x="521.15" y="480.87" width="11.70" height="5.61" fill="#3D5E80"/>
<rect x="521.15" y="477.03" width="11.70" height="3.83" fill="#F29D85"/>
<rect x="521.15" y="473.56" width="11.70" height="3.48" fill="#96C6DF"/>
<rect x="521.15" y="471.71" width="11.70" height="1.85" fill="#DDEEE8"/>
<rect x="521.15" y="466.10" width="11.70" height="5.61" fill="#A0A0A0"/>
<line x1="527.00" y1="540.65" x2="527.00" y2="541.95" stroke="#333" stroke-width="0.5"/>
<text transform="translate(532.80,546.95) rotate(-49)" text-anchor="end" font-size="6.9" fill="#222">Spleen</text>
<rect x="534.15" y="493.51" width="11.70" height="43.59" fill="#F4685F"/>
<rect x="534.15" y="490.03" width="11.70" height="3.48" fill="#FDEBD8"/>
<rect x="534.15" y="477.74" width="11.70" height="12.28" fill="#3D5E80"/>
<rect x="534.15" y="475.54" width="11.70" height="2.20" fill="#F29D85"/>
<rect x="534.15" y="471.71" width="11.70" height="3.83" fill="#96C6DF"/>
<rect x="534.15" y="470.72" width="11.70" height="0.99" fill="#DDEEE8"/>
<rect x="534.15" y="466.10" width="11.70" height="4.62" fill="#A0A0A0"/>
<line x1="540.00" y1="540.65" x2="540.00" y2="541.95" stroke="#333" stroke-width="0.5"/>
<text transform="translate(545.80,546.95) rotate(-49)" text-anchor="end" font-size="6.9" fill="#222">Stomach</text>
<rect x="547.15" y="497.06" width="11.70" height="40.04" fill="#F4685F"/>
<rect x="547.15" y="495.21" width="11.70" height="1.85" fill="#FDEBD8"/>
<rect x="547.15" y="486.90" width="11.70" height="8.31" fill="#3D5E80"/>
<rect x="547.15" y="483.92" width="11.70" height="2.98" fill="#F29D85"/>
<rect x="547.15" y="476.68" width="11.70" height="7.24" fill="#96C6DF"/>
<rect x="547.15" y="474.55" width="11.70" height="2.13" fill="#DDEEE8"/>
<rect x="547.15" y="473.84" width="11.70" height="0.71" fill="#91B5A8"/>
<rect x="547.15" y="466.10" width="11.70" height="7.74" fill="#A0A0A0"/>
<line x1="553.00" y1="540.65" x2="553.00" y2="541.95" stroke="#333" stroke-width="0.5"/>
<text transform="translate(558.80,546.95) rotate(-49)" text-anchor="end" font-size="6.9" fill="#222">Thymus</text>
<rect x="560.15" y="472.70" width="11.70" height="64.40" fill="#F4685F"/>
<rect x="560.15" y="466.10" width="11.70" height="6.60" fill="#A0A0A0"/>
<line x1="566.00" y1="540.65" x2="566.00" y2="541.95" stroke="#333" stroke-width="0.5"/>
<text transform="translate(571.80,546.95) rotate(-49)" text-anchor="end" font-size="6.9" fill="#222">Blood</text>
<rect x="573.15" y="472.42" width="11.70" height="64.68" fill="#F4685F"/>
<rect x="573.15" y="466.10" width="11.70" height="6.32" fill="#A0A0A0"/>
<line x1="579.00" y1="540.65" x2="579.00" y2="541.95" stroke="#333" stroke-width="0.5"/>
<text transform="translate(584.80,546.95) rotate(-49)" text-anchor="end" font-size="6.9" fill="#222">Erythrocyte</text>
<rect x="586.15" y="486.48" width="11.70" height="50.62" fill="#F4685F"/>
<rect x="586.15" y="485.06" width="11.70" height="1.42" fill="#FDEBD8"/>
<rect x="586.15" y="483.00" width="11.70" height="2.06" fill="#3D5E80"/>
<rect x="586.15" y="477.74" width="11.70" height="5.25" fill="#F29D85"/>
<rect x="586.15" y="473.56" width="11.70" height="4.19" fill="#96C6DF"/>
<rect x="586.15" y="470.72" width="11.70" height="2.84" fill="#DDEEE8"/>
<rect x="586.15" y="466.10" width="11.70" height="4.62" fill="#A0A0A0"/>
<line x1="592.00" y1="540.65" x2="592.00" y2="541.95" stroke="#333" stroke-width="0.5"/>
<text transform="translate(597.80,546.95) rotate(-49)" text-anchor="end" font-size="6.9" fill="#222">Leukocyte</text>
<rect x="599.15" y="493.22" width="11.70" height="43.88" fill="#F4685F"/>
<rect x="599.15" y="491.38" width="11.70" height="1.85" fill="#A3D2A0"/>
<rect x="599.15" y="489.74" width="11.70" height="1.63" fill="#FDEBD8"/>
<rect x="599.15" y="481.58" width="11.70" height="8.17" fill="#3D5E80"/>
<rect x="599.15" y="478.74" width="11.70" height="2.84" fill="#F29D85"/>
<rect x="599.15" y="471.71" width="11.70" height="7.03" fill="#96C6DF"/>
<rect x="599.15" y="469.86" width="11.70" height="1.85" fill="#DDEEE8"/>
<rect x="599.15" y="466.10" width="11.70" height="3.76" fill="#A0A0A0"/>
<line x1="605.00" y1="540.65" x2="605.00" y2="541.95" stroke="#333" stroke-width="0.5"/>
<text transform="translate(610.80,546.95) rotate(-49)" text-anchor="end" font-size="6.9" fill="#222">Ovary</text>
<rect x="612.15" y="534.69" width="11.70" height="2.41" fill="#F4685F"/>
<rect x="612.15" y="483.00" width="11.70" height="51.69" fill="#A3D2A0"/>
<rect x="612.15" y="482.29" width="11.70" height="0.71" fill="#FDEBD8"/>
<rect x="612.15" y="480.58" width="11.70" height="1.70" fill="#3D5E80"/>
<rect x="612.15" y="479.87" width="11.70" height="0.71" fill="#F29D85"/>
<rect x="612.15" y="473.84" width="11.70" height="6.04" fill="#DDEEE8"/>
<rect x="612.15" y="470.72" width="11.70" height="3.12" fill="#91B5A8"/>
<rect x="612.15" y="466.10" width="11.70" height="4.62" fill="#A0A0A0"/>
<line x1="618.00" y1="540.65" x2="618.00" y2="541.95" stroke="#333" stroke-width="0.5"/>
<text transform="translate(623.80,546.95) rotate(-49)" text-anchor="end" font-size="6.9" fill="#222">Testis</text>
<line x1="363.20" y1="462.55" x2="363.20" y2="540.65" stroke="#444" stroke-width="0.9"/>
<line x1="362.75" y1="540.65" x2="625.80" y2="540.65" stroke="#444" stroke-width="0.9"/>
<line x1="361.70" y1="466.10" x2="363.20" y2="466.10" stroke="#444" stroke-width="0.5"/>
<text x="361.20" y="469.00" text-anchor="end" font-size="8.4" fill="#333">1.00</text>
<line x1="361.70" y1="483.85" x2="363.20" y2="483.85" stroke="#444" stroke-width="0.5"/>
<text x="361.20" y="486.75" text-anchor="end" font-size="8.4" fill="#333">0.75</text>
<line x1="361.70" y1="501.60" x2="363.20" y2="501.60" stroke="#444" stroke-width="0.5"/>
<text x="361.20" y="504.50" text-anchor="end" font-size="8.4" fill="#333">0.50</text>
<line x1="361.70" y1="519.35" x2="363.20" y2="519.35" stroke="#444" stroke-width="0.5"/>
<text x="361.20" y="522.25" text-anchor="end" font-size="8.4" fill="#333">0.25</text>
<line x1="361.70" y1="537.10" x2="363.20" y2="537.10" stroke="#444" stroke-width="0.5"/>
<text x="361.20" y="540.00" text-anchor="end" font-size="8.4" fill="#333">0.00</text>
<text transform="translate(338.00,499.60) rotate(-90)" text-anchor="middle" font-size="8.3" fill="#111">Small RNA ratio</text>
<text x="496.60" y="460.90" text-anchor="middle" font-size="7.5" fill="#111">Mouse</text>
<text x="641.2" y="292.8" font-size="8.4" fill="#111">Species</text>
<rect x="633.9" y="301.90" width="12.7" height="11.3" fill="#A0A0A0"/>
<text x="650.9" y="310.50" font-size="9.1" fill="#111">others</text>
<rect x="633.9" y="314.62" width="12.7" height="11.3" fill="#91B5A8"/>
<text x="650.9" y="323.22" font-size="9.1" fill="#111">mRNA</text>
<rect x="633.9" y="327.34" width="12.7" height="11.3" fill="#DDEEE8"/>
<text x="650.9" y="335.94" font-size="9.1" fill="#111">lncRNA</text>
<rect x="633.9" y="340.06" width="12.7" height="11.3" fill="#6AA2DC"/>
<text x="650.9" y="348.66" font-size="9.1" fill="#111">YRNA</text>
<rect x="633.9" y="352.78" width="12.7" height="11.3" fill="#EEF0F8"/>
<text x="650.9" y="361.38" font-size="9.1" fill="#111">scaRNA</text>
<rect x="633.9" y="365.50" width="12.7" height="11.3" fill="#2674B0"/>
<text x="650.9" y="374.10" font-size="9.1" fill="#111">scRNA</text>
<rect x="633.9" y="378.22" width="12.7" height="11.3" fill="#96C6DF"/>
<text x="650.9" y="386.82" font-size="9.1" fill="#111">snRNA</text>
<rect x="633.9" y="390.94" width="12.7" height="11.3" fill="#F29D85"/>
<text x="650.9" y="399.54" font-size="9.1" fill="#111">snoRNA</text>
<rect x="633.9" y="403.66" width="12.7" height="11.3" fill="#3D5E80"/>
<text x="650.9" y="412.26" font-size="9.1" fill="#111">rRNA</text>
<rect x="633.9" y="416.38" width="12.7" height="11.3" fill="#FDEBD8"/>
<text x="650.9" y="424.98" font-size="9.1" fill="#111">tRNA</text>
<rect x="633.9" y="429.10" width="12.7" height="11.3" fill="#A3D2A0"/>
<text x="650.9" y="437.70" font-size="9.1" fill="#111">piRNA</text>
<rect x="633.9" y="441.82" width="12.7" height="11.3" fill="#F4685F"/>
<text x="650.9" y="450.42" font-size="9.1" fill="#111">miRNA</text>
</svg></body></html>
